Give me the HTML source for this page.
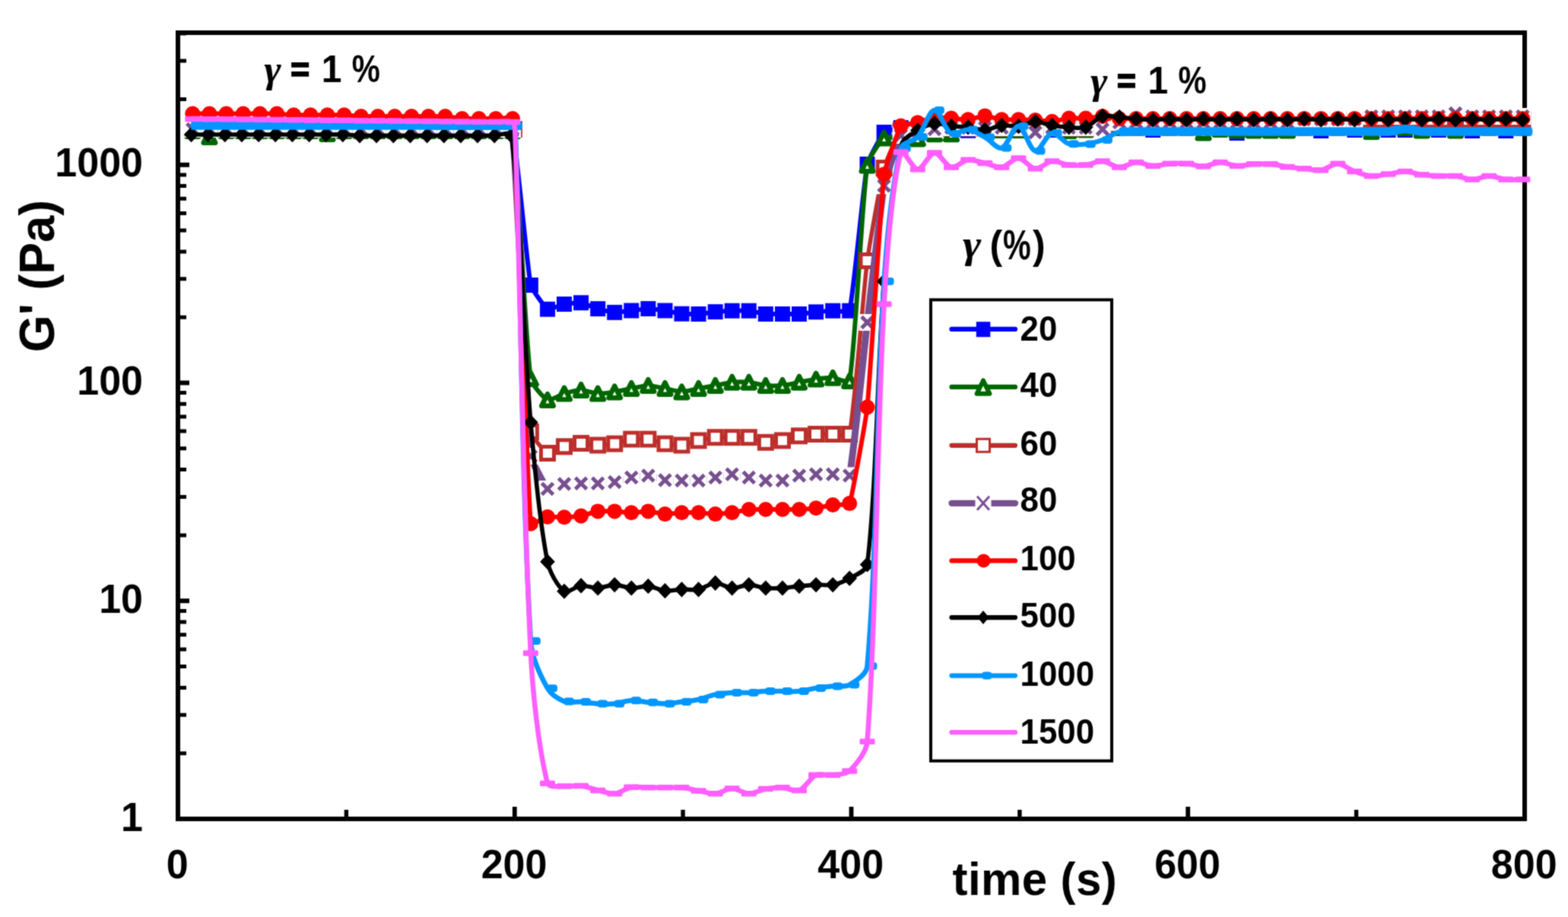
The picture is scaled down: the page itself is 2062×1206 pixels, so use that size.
<!DOCTYPE html>
<html lang="en"><head><meta charset="utf-8"><title>G' recovery versus time</title>
<style>
html,body{margin:0;padding:0;background:#fff;}
body{width:2062px;height:1206px;overflow:hidden;}
svg{display:block;}
text{font-family:"Liberation Sans",sans-serif;font-weight:bold;fill:#000;}
.gm{font-family:"Liberation Serif","DejaVu Serif",serif;font-style:italic;font-weight:bold;}
</style></head><body>
<svg width="2062" height="1206" viewBox="0 0 2062 1206" role="img" aria-label="Storage modulus G' versus time for step-strain recovery tests">
<defs><filter id="soft" x="0" y="0" width="2062" height="1206" filterUnits="userSpaceOnUse" color-interpolation-filters="sRGB"><feConvolveMatrix order="3" kernelMatrix="1 3 1 3 9 3 1 3 1" divisor="25" edgeMode="duplicate" preserveAlpha="true"/></filter></defs>
<g filter="url(#soft)">
<rect width="2062" height="1206" fill="#fff"/>
<g id="axes">
<rect x="234" y="43" width="1771" height="1034" fill="none" stroke="#000" stroke-width="6"/>
<line x1="234" y1="790.2" x2="249" y2="790.2" stroke="#000" stroke-width="6"/>
<line x1="234" y1="503.5" x2="249" y2="503.5" stroke="#000" stroke-width="6"/>
<line x1="234" y1="216.8" x2="249" y2="216.8" stroke="#000" stroke-width="6"/>
<path d="M234 990.7H245M234 940.2H245M234 904.4H245M234 876.6H245M234 853.9H245M234 834.7H245M234 818H245M234 803.4H245M234 703.9H245M234 653.4H245M234 617.6H245M234 589.8H245M234 567.1H245M234 547.9H245M234 531.3H245M234 516.6H245M234 417.2H245M234 366.7H245M234 330.9H245M234 303.1H245M234 280.4H245M234 261.2H245M234 244.5H245M234 229.9H245M234 130.4H245M234 79.9H245M234 44.1H245" stroke="#000" stroke-width="5" fill="none"/>
<path d="M676.8 1077V1061M1119.5 1077V1061M1562.2 1077V1061" stroke="#000" stroke-width="5.8" fill="none"/>
<path d="M455.4 1077V1065M898.1 1077V1065M1340.9 1077V1065M1783.6 1077V1065" stroke="#000" stroke-width="5.4" fill="none"/>
</g>
<g id="ticklabels">
<text transform="translate(188 232.4) scale(1 1.045)" style="font-size:52px;" text-anchor="end">1000</text>
<text transform="translate(188 519.2) scale(1 1.045)" style="font-size:52px;" text-anchor="end">100</text>
<text transform="translate(188 806) scale(1 1.045)" style="font-size:52px;" text-anchor="end">10</text>
<text transform="translate(188 1092.7) scale(1 1.045)" style="font-size:52px;" text-anchor="end">1</text>
<text transform="translate(233.2 1155.2) scale(1 1.045)" style="font-size:52px;" text-anchor="middle">0</text>
<text transform="translate(676 1155.2) scale(1 1.045)" style="font-size:52px;" text-anchor="middle">200</text>
<text transform="translate(1118.7 1155.2) scale(1 1.045)" style="font-size:52px;" text-anchor="middle">400</text>
<text transform="translate(1561.5 1155.2) scale(1 1.045)" style="font-size:52px;" text-anchor="middle">600</text>
<text transform="translate(2004.2 1155.2) scale(1 1.045)" style="font-size:52px;" text-anchor="middle">800</text>
</g>
<text transform="translate(70.6 463.3) rotate(-90) scale(1 1.03)" style="font-size:63px;">G' (Pa)</text>
<text transform="translate(1252.5 1177.2) scale(1 1.02)" style="font-size:60px;letter-spacing:0.4px;">time (s)</text>
<g id="series">
<g id="s-blue">
<path d="M253.3 171C256 171 272.8 171 275.4 171C278.1 171 294.9 171 297.6 171C300.3 171 317.1 171 319.8 171C322.4 171 339.2 171 341.9 171C344.6 171 361.4 171 364.1 171C366.7 171 383.5 171 386.2 171C388.9 171 405.7 171 408.4 171C411 171 427.8 171 430.5 171C433.2 171 450 171 452.6 171C455.3 171 472.1 171 474.8 171C477.5 171 494.3 171 496.9 171C499.6 171 516.4 171 519.1 171C521.8 171 538.6 171 541.2 171C543.9 171 560.7 171 563.4 171C566.1 171 582.9 171 585.5 171C588.2 171 605 171 607.7 171C610.4 171 627.2 171 629.8 171C632.5 171 649.3 171 652 171C654.7 171 673.6 168.6 674.1 171C679.1 193.1 693.3 351.2 697.9 375C698.8 379.5 716.7 404.8 720 406.7C722 407.8 739.3 400.5 742 400C744.6 399.5 761.5 397.8 764.1 398.2C766.8 398.6 783.5 405.3 786.2 406.1C788.8 406.8 805.6 410.8 808.2 410.9C810.9 411 827.7 408.8 830.3 408.5C833 408.2 849.7 406 852.4 406C855 406 871.8 408.1 874.5 408.5C877.1 408.9 893.9 412.4 896.5 412.7C899.2 413 916 413.2 918.6 413C921.3 412.8 938 410.4 940.7 410.1C943.3 409.8 960.1 408.8 962.7 408.7C965.4 408.6 982.2 408.4 984.8 408.7C987.5 409 1004.2 412.7 1006.9 413C1009.5 413.3 1026.3 413 1029 413C1031.6 413 1048.4 413.2 1051 413C1053.7 412.8 1070.4 410.6 1073.1 410.3C1075.7 410 1092.5 408.8 1095.2 408.7C1097.8 408.6 1116.7 411.1 1117.2 408.7C1122.1 387.9 1136.1 238.6 1140.5 216C1141.6 210.5 1159 177.9 1162.6 174C1164.3 172.1 1182 168.2 1184.7 168C1187.3 167.8 1204.1 171 1206.8 171C1209.5 171 1226.2 168.2 1228.9 168C1231.5 167.8 1248.4 167.8 1251 168C1253.7 168.2 1270.4 171.7 1273.1 171.7C1275.8 171.7 1292.5 168.2 1295.2 168C1297.8 167.8 1314.6 168 1317.3 168C1320 168 1336.7 168 1339.4 168C1342.1 168 1358.9 167.8 1361.5 168C1364.2 168.2 1380.9 171 1383.6 171C1386.3 171 1403 168.2 1405.7 168C1408.3 167.8 1425.2 167.9 1427.8 168C1430.5 168.1 1447.2 170.4 1449.9 170.4C1452.6 170.4 1469.3 168.1 1472 168C1474.6 167.9 1491.5 167.8 1494.1 168C1496.8 168.2 1513.5 171 1516.2 171C1518.9 171 1535.6 168.2 1538.3 168C1540.9 167.8 1557.7 168 1560.4 168C1563.1 168 1579.8 168 1582.5 168C1585.2 168 1602 167.6 1604.6 168C1607.3 168.4 1624 175 1626.7 175C1629.4 175 1646.1 168.4 1648.8 168C1651.4 167.6 1668.3 167.8 1670.9 168C1673.6 168.2 1690.3 172 1693 172C1695.7 172 1712.4 168 1715.1 168C1717.8 168 1734.5 172 1737.2 172C1739.9 172 1756.6 168.1 1759.3 168C1761.9 167.9 1778.7 171 1781.4 171C1784.1 171 1800.8 168 1803.5 168C1806.2 168 1822.9 170.8 1825.6 171C1828.2 171.2 1845.1 171.2 1847.7 171C1850.4 170.8 1867.1 168 1869.8 168C1872.5 168 1889.2 171 1891.9 171C1894.6 171 1911.4 167.9 1914 168C1916.7 168.1 1933.4 172 1936.1 172C1938.8 172 1955.5 168 1958.2 168C1960.9 168 1977.6 172 1980.3 172C1983 172 1999.7 168.5 2002.4 168" fill="none" stroke="#0000FF" stroke-width="6" stroke-linejoin="round" stroke-linecap="round"/>
<rect x="243.3" y="161" width="20" height="20" fill="#0000FF"/>
<rect x="265.4" y="161" width="20" height="20" fill="#0000FF"/>
<rect x="287.6" y="161" width="20" height="20" fill="#0000FF"/>
<rect x="309.8" y="161" width="20" height="20" fill="#0000FF"/>
<rect x="331.9" y="161" width="20" height="20" fill="#0000FF"/>
<rect x="354.1" y="161" width="20" height="20" fill="#0000FF"/>
<rect x="376.2" y="161" width="20" height="20" fill="#0000FF"/>
<rect x="398.4" y="161" width="20" height="20" fill="#0000FF"/>
<rect x="420.5" y="161" width="20" height="20" fill="#0000FF"/>
<rect x="442.6" y="161" width="20" height="20" fill="#0000FF"/>
<rect x="464.8" y="161" width="20" height="20" fill="#0000FF"/>
<rect x="486.9" y="161" width="20" height="20" fill="#0000FF"/>
<rect x="509.1" y="161" width="20" height="20" fill="#0000FF"/>
<rect x="531.2" y="161" width="20" height="20" fill="#0000FF"/>
<rect x="553.4" y="161" width="20" height="20" fill="#0000FF"/>
<rect x="575.5" y="161" width="20" height="20" fill="#0000FF"/>
<rect x="597.7" y="161" width="20" height="20" fill="#0000FF"/>
<rect x="619.8" y="161" width="20" height="20" fill="#0000FF"/>
<rect x="642" y="161" width="20" height="20" fill="#0000FF"/>
<rect x="664.1" y="161" width="20" height="20" fill="#0000FF"/>
<rect x="687.9" y="365" width="20" height="20" fill="#0000FF"/>
<rect x="710" y="396.7" width="20" height="20" fill="#0000FF"/>
<rect x="732" y="390" width="20" height="20" fill="#0000FF"/>
<rect x="754.1" y="388.2" width="20" height="20" fill="#0000FF"/>
<rect x="776.2" y="396.1" width="20" height="20" fill="#0000FF"/>
<rect x="798.2" y="400.9" width="20" height="20" fill="#0000FF"/>
<rect x="820.3" y="398.5" width="20" height="20" fill="#0000FF"/>
<rect x="842.4" y="396" width="20" height="20" fill="#0000FF"/>
<rect x="864.5" y="398.5" width="20" height="20" fill="#0000FF"/>
<rect x="886.5" y="402.7" width="20" height="20" fill="#0000FF"/>
<rect x="908.6" y="403" width="20" height="20" fill="#0000FF"/>
<rect x="930.7" y="400.1" width="20" height="20" fill="#0000FF"/>
<rect x="952.7" y="398.7" width="20" height="20" fill="#0000FF"/>
<rect x="974.8" y="398.7" width="20" height="20" fill="#0000FF"/>
<rect x="996.9" y="403" width="20" height="20" fill="#0000FF"/>
<rect x="1019" y="403" width="20" height="20" fill="#0000FF"/>
<rect x="1041" y="403" width="20" height="20" fill="#0000FF"/>
<rect x="1063.1" y="400.3" width="20" height="20" fill="#0000FF"/>
<rect x="1085.2" y="398.7" width="20" height="20" fill="#0000FF"/>
<rect x="1107.2" y="398.7" width="20" height="20" fill="#0000FF"/>
<rect x="1130.5" y="206" width="20" height="20" fill="#0000FF"/>
<rect x="1152.6" y="164" width="20" height="20" fill="#0000FF"/>
<rect x="1174.7" y="158" width="20" height="20" fill="#0000FF"/>
<rect x="1196.8" y="161" width="20" height="20" fill="#0000FF"/>
<rect x="1218.9" y="158" width="20" height="20" fill="#0000FF"/>
<rect x="1241" y="158" width="20" height="20" fill="#0000FF"/>
<rect x="1263.1" y="161.7" width="20" height="20" fill="#0000FF"/>
<rect x="1285.2" y="158" width="20" height="20" fill="#0000FF"/>
<rect x="1307.3" y="158" width="20" height="20" fill="#0000FF"/>
<rect x="1329.4" y="158" width="20" height="20" fill="#0000FF"/>
<rect x="1351.5" y="158" width="20" height="20" fill="#0000FF"/>
<rect x="1373.6" y="161" width="20" height="20" fill="#0000FF"/>
<rect x="1395.7" y="158" width="20" height="20" fill="#0000FF"/>
<rect x="1417.8" y="158" width="20" height="20" fill="#0000FF"/>
<rect x="1439.9" y="160.4" width="20" height="20" fill="#0000FF"/>
<rect x="1462" y="158" width="20" height="20" fill="#0000FF"/>
<rect x="1484.1" y="158" width="20" height="20" fill="#0000FF"/>
<rect x="1506.2" y="161" width="20" height="20" fill="#0000FF"/>
<rect x="1528.3" y="158" width="20" height="20" fill="#0000FF"/>
<rect x="1550.4" y="158" width="20" height="20" fill="#0000FF"/>
<rect x="1572.5" y="158" width="20" height="20" fill="#0000FF"/>
<rect x="1594.6" y="158" width="20" height="20" fill="#0000FF"/>
<rect x="1616.7" y="165" width="20" height="20" fill="#0000FF"/>
<rect x="1638.8" y="158" width="20" height="20" fill="#0000FF"/>
<rect x="1660.9" y="158" width="20" height="20" fill="#0000FF"/>
<rect x="1683" y="162" width="20" height="20" fill="#0000FF"/>
<rect x="1705.1" y="158" width="20" height="20" fill="#0000FF"/>
<rect x="1727.2" y="162" width="20" height="20" fill="#0000FF"/>
<rect x="1749.3" y="158" width="20" height="20" fill="#0000FF"/>
<rect x="1771.4" y="161" width="20" height="20" fill="#0000FF"/>
<rect x="1793.5" y="158" width="20" height="20" fill="#0000FF"/>
<rect x="1815.6" y="161" width="20" height="20" fill="#0000FF"/>
<rect x="1837.7" y="161" width="20" height="20" fill="#0000FF"/>
<rect x="1859.8" y="158" width="20" height="20" fill="#0000FF"/>
<rect x="1881.9" y="161" width="20" height="20" fill="#0000FF"/>
<rect x="1904" y="158" width="20" height="20" fill="#0000FF"/>
<rect x="1926.1" y="162" width="20" height="20" fill="#0000FF"/>
<rect x="1948.2" y="158" width="20" height="20" fill="#0000FF"/>
<rect x="1970.3" y="162" width="20" height="20" fill="#0000FF"/>
<rect x="1992.4" y="158" width="20" height="20" fill="#0000FF"/>
</g>
<g id="s-green">
<path d="M253.3 172C257.7 173.6 271 180 275.4 180C279.9 180 293 172.8 297.6 172C301.9 171.2 315.3 172 319.8 172C324.2 172 337.5 172 341.9 172C346.3 172 359.6 172 364.1 172C368.5 172 381.8 172 386.2 172C390.6 172 404 171.6 408.4 172C412.8 172.4 426.1 176 430.5 176C434.9 176 448.2 172.4 452.6 172C457 171.6 470.4 172 474.8 172C479.2 172 492.5 172 496.9 172C501.4 172 514.7 172 519.1 172C523.5 172 536.8 172 541.2 172C545.7 172 559 172 563.4 172C567.8 172 581.1 172 585.5 172C590 172 603.3 172 607.7 172C612.1 172 625.4 172 629.8 172C634.3 172 647.6 172 652 172C656.4 172 673.6 167.9 674.1 172C682.7 233.1 689.6 434.2 697.9 498C698.8 505 714.7 523.6 720 526C723.5 527.6 737.5 518.9 742 517.6C746.4 516.3 759.7 513 764.1 513C768.5 513 781.7 517.4 786.2 517.6C790.6 517.8 803.9 516.1 808.2 515.4C812.7 514.7 825.9 511.8 830.3 511C834.7 510.2 848 507 852.4 507C856.8 507 870.1 510.2 874.5 511C878.9 511.8 892.1 515.4 896.5 515.4C900.9 515.4 914.2 511.8 918.6 511C923 510.2 936.3 507.8 940.7 507C945.1 506.2 958.3 503.1 962.7 502.7C967.1 502.3 980.4 502.3 984.8 502.7C989.3 503.1 1002.4 506.6 1006.9 507C1011.3 507.4 1024.6 507.4 1029 507C1033.4 506.6 1046.6 503.5 1051 502.7C1055.4 501.9 1068.6 499.2 1073.1 498.6C1077.5 498 1090.8 496.6 1095.2 496.8C1099.6 497 1116.6 505.1 1117.2 501C1125.6 449.2 1132.6 273.1 1140.5 217.5C1141.7 209.2 1156.8 186.3 1162.6 181.5C1165.6 179 1180.3 180.9 1184.7 181C1189.1 181.1 1202.5 182.9 1206.8 182.4C1211.3 181.9 1224.4 176.9 1228.9 176.3C1233.2 175.7 1246.7 177.1 1251 176.3C1255.6 175.4 1268.5 168.9 1273.1 168C1277.4 167.2 1290.8 167.7 1295.2 168C1299.6 168.3 1312.9 170.7 1317.3 171C1321.7 171.3 1335 171.3 1339.4 171C1343.8 170.7 1357.1 168.3 1361.5 168C1365.9 167.7 1379.2 167.6 1383.6 168C1388.1 168.4 1401.2 171.7 1405.7 172C1410.1 172.2 1423.4 170.9 1427.8 170.5C1432.2 170.1 1445.5 168.3 1449.9 168C1454.3 167.8 1467.6 168 1472 168C1476.4 168 1489.7 168 1494.1 168C1498.5 168 1511.8 168 1516.2 168C1520.6 168 1533.9 168 1538.3 168C1542.7 168 1556.1 167.4 1560.4 168C1564.9 168.7 1578 174.3 1582.5 174.5C1586.9 174.7 1600.1 170.3 1604.6 170C1609 169.7 1622.3 171.3 1626.7 171.5C1631.1 171.6 1644.4 171.5 1648.8 171.5C1653.2 171.5 1666.5 171.5 1670.9 171.5C1675.3 171.5 1688.6 171.8 1693 171.5C1697.4 171.1 1710.7 168.4 1715.1 168C1719.5 167.7 1732.8 168 1737.2 168C1741.6 168 1754.9 168 1759.3 168C1763.7 168 1777 167.5 1781.4 168C1785.9 168.5 1799.1 173 1803.5 173C1807.9 173 1821.1 168.5 1825.6 168C1830 167.5 1843.3 167.7 1847.7 168C1852.1 168.4 1865.4 171.5 1869.8 171.5C1874.2 171.5 1887.5 168 1891.9 168C1896.3 168 1909.6 171.5 1914 171.5C1918.4 171.5 1931.7 168.4 1936.1 168C1940.5 167.7 1953.8 168 1958.2 168C1962.6 168 1975.9 168 1980.3 168C1984.7 168 1998 168 2002.4 168" fill="none" stroke="#006600" stroke-width="6" stroke-linejoin="round" stroke-linecap="round"/>
<path d="M253.3 164.2L261.1 179.8L245.5 179.8Z" fill="#fff" stroke="#006600" stroke-width="6.4" stroke-linejoin="round"/>
<path d="M275.4 172.2L283.2 187.8L267.6 187.8Z" fill="#fff" stroke="#006600" stroke-width="6.4" stroke-linejoin="round"/>
<path d="M297.6 164.2L305.4 179.8L289.8 179.8Z" fill="#fff" stroke="#006600" stroke-width="6.4" stroke-linejoin="round"/>
<path d="M319.8 164.2L327.6 179.8L311.9 179.8Z" fill="#fff" stroke="#006600" stroke-width="6.4" stroke-linejoin="round"/>
<path d="M341.9 164.2L349.7 179.8L334.1 179.8Z" fill="#fff" stroke="#006600" stroke-width="6.4" stroke-linejoin="round"/>
<path d="M364.1 164.2L371.9 179.8L356.2 179.8Z" fill="#fff" stroke="#006600" stroke-width="6.4" stroke-linejoin="round"/>
<path d="M386.2 164.2L394 179.8L378.4 179.8Z" fill="#fff" stroke="#006600" stroke-width="6.4" stroke-linejoin="round"/>
<path d="M408.4 164.2L416.2 179.8L400.6 179.8Z" fill="#fff" stroke="#006600" stroke-width="6.4" stroke-linejoin="round"/>
<path d="M430.5 168.2L438.3 183.8L422.7 183.8Z" fill="#fff" stroke="#006600" stroke-width="6.4" stroke-linejoin="round"/>
<path d="M452.6 164.2L460.4 179.8L444.8 179.8Z" fill="#fff" stroke="#006600" stroke-width="6.4" stroke-linejoin="round"/>
<path d="M474.8 164.2L482.6 179.8L467 179.8Z" fill="#fff" stroke="#006600" stroke-width="6.4" stroke-linejoin="round"/>
<path d="M496.9 164.2L504.8 179.8L489.1 179.8Z" fill="#fff" stroke="#006600" stroke-width="6.4" stroke-linejoin="round"/>
<path d="M519.1 164.2L526.9 179.8L511.3 179.8Z" fill="#fff" stroke="#006600" stroke-width="6.4" stroke-linejoin="round"/>
<path d="M541.2 164.2L549 179.8L533.5 179.8Z" fill="#fff" stroke="#006600" stroke-width="6.4" stroke-linejoin="round"/>
<path d="M563.4 164.2L571.2 179.8L555.6 179.8Z" fill="#fff" stroke="#006600" stroke-width="6.4" stroke-linejoin="round"/>
<path d="M585.5 164.2L593.3 179.8L577.8 179.8Z" fill="#fff" stroke="#006600" stroke-width="6.4" stroke-linejoin="round"/>
<path d="M607.7 164.2L615.5 179.8L599.9 179.8Z" fill="#fff" stroke="#006600" stroke-width="6.4" stroke-linejoin="round"/>
<path d="M629.8 164.2L637.6 179.8L622 179.8Z" fill="#fff" stroke="#006600" stroke-width="6.4" stroke-linejoin="round"/>
<path d="M652 164.2L659.8 179.8L644.2 179.8Z" fill="#fff" stroke="#006600" stroke-width="6.4" stroke-linejoin="round"/>
<path d="M674.1 164.2L681.9 179.8L666.4 179.8Z" fill="#fff" stroke="#006600" stroke-width="6.4" stroke-linejoin="round"/>
<path d="M697.9 490.2L705.7 505.8L690.1 505.8Z" fill="#fff" stroke="#006600" stroke-width="6.4" stroke-linejoin="round"/>
<path d="M720 518.2L727.8 533.8L712.2 533.8Z" fill="#fff" stroke="#006600" stroke-width="6.4" stroke-linejoin="round"/>
<path d="M742 509.8L749.8 525.4L734.2 525.4Z" fill="#fff" stroke="#006600" stroke-width="6.4" stroke-linejoin="round"/>
<path d="M764.1 505.2L771.9 520.8L756.3 520.8Z" fill="#fff" stroke="#006600" stroke-width="6.4" stroke-linejoin="round"/>
<path d="M786.2 509.8L794 525.4L778.4 525.4Z" fill="#fff" stroke="#006600" stroke-width="6.4" stroke-linejoin="round"/>
<path d="M808.2 507.6L816 523.2L800.5 523.2Z" fill="#fff" stroke="#006600" stroke-width="6.4" stroke-linejoin="round"/>
<path d="M830.3 503.2L838.1 518.8L822.5 518.8Z" fill="#fff" stroke="#006600" stroke-width="6.4" stroke-linejoin="round"/>
<path d="M852.4 499.2L860.2 514.8L844.6 514.8Z" fill="#fff" stroke="#006600" stroke-width="6.4" stroke-linejoin="round"/>
<path d="M874.5 503.2L882.3 518.8L866.7 518.8Z" fill="#fff" stroke="#006600" stroke-width="6.4" stroke-linejoin="round"/>
<path d="M896.5 507.6L904.3 523.2L888.7 523.2Z" fill="#fff" stroke="#006600" stroke-width="6.4" stroke-linejoin="round"/>
<path d="M918.6 503.2L926.4 518.8L910.8 518.8Z" fill="#fff" stroke="#006600" stroke-width="6.4" stroke-linejoin="round"/>
<path d="M940.7 499.2L948.5 514.8L932.9 514.8Z" fill="#fff" stroke="#006600" stroke-width="6.4" stroke-linejoin="round"/>
<path d="M962.7 494.9L970.5 510.5L954.9 510.5Z" fill="#fff" stroke="#006600" stroke-width="6.4" stroke-linejoin="round"/>
<path d="M984.8 494.9L992.6 510.5L977 510.5Z" fill="#fff" stroke="#006600" stroke-width="6.4" stroke-linejoin="round"/>
<path d="M1006.9 499.2L1014.7 514.8L999.1 514.8Z" fill="#fff" stroke="#006600" stroke-width="6.4" stroke-linejoin="round"/>
<path d="M1029 499.2L1036.8 514.8L1021.2 514.8Z" fill="#fff" stroke="#006600" stroke-width="6.4" stroke-linejoin="round"/>
<path d="M1051 494.9L1058.8 510.5L1043.2 510.5Z" fill="#fff" stroke="#006600" stroke-width="6.4" stroke-linejoin="round"/>
<path d="M1073.1 490.8L1080.9 506.4L1065.3 506.4Z" fill="#fff" stroke="#006600" stroke-width="6.4" stroke-linejoin="round"/>
<path d="M1095.2 489L1103 504.6L1087.4 504.6Z" fill="#fff" stroke="#006600" stroke-width="6.4" stroke-linejoin="round"/>
<path d="M1117.2 493.2L1125 508.8L1109.4 508.8Z" fill="#fff" stroke="#006600" stroke-width="6.4" stroke-linejoin="round"/>
<path d="M1140.5 209.7L1148.3 225.3L1132.7 225.3Z" fill="#fff" stroke="#006600" stroke-width="6.4" stroke-linejoin="round"/>
<path d="M1162.6 173.7L1170.4 189.3L1154.8 189.3Z" fill="#fff" stroke="#006600" stroke-width="6.4" stroke-linejoin="round"/>
<path d="M1184.7 173.2L1192.5 188.8L1176.9 188.8Z" fill="#fff" stroke="#006600" stroke-width="6.4" stroke-linejoin="round"/>
<path d="M1206.8 174.6L1214.6 190.2L1199 190.2Z" fill="#fff" stroke="#006600" stroke-width="6.4" stroke-linejoin="round"/>
<path d="M1228.9 168.5L1236.7 184.1L1221.1 184.1Z" fill="#fff" stroke="#006600" stroke-width="6.4" stroke-linejoin="round"/>
<path d="M1251 168.5L1258.8 184.1L1243.2 184.1Z" fill="#fff" stroke="#006600" stroke-width="6.4" stroke-linejoin="round"/>
<path d="M1273.1 160.2L1280.9 175.8L1265.3 175.8Z" fill="#fff" stroke="#006600" stroke-width="6.4" stroke-linejoin="round"/>
<path d="M1295.2 160.2L1303 175.8L1287.4 175.8Z" fill="#fff" stroke="#006600" stroke-width="6.4" stroke-linejoin="round"/>
<path d="M1317.3 163.2L1325.1 178.8L1309.5 178.8Z" fill="#fff" stroke="#006600" stroke-width="6.4" stroke-linejoin="round"/>
<path d="M1339.4 163.2L1347.2 178.8L1331.6 178.8Z" fill="#fff" stroke="#006600" stroke-width="6.4" stroke-linejoin="round"/>
<path d="M1361.5 160.2L1369.3 175.8L1353.7 175.8Z" fill="#fff" stroke="#006600" stroke-width="6.4" stroke-linejoin="round"/>
<path d="M1383.6 160.2L1391.4 175.8L1375.8 175.8Z" fill="#fff" stroke="#006600" stroke-width="6.4" stroke-linejoin="round"/>
<path d="M1405.7 164.2L1413.5 179.8L1397.9 179.8Z" fill="#fff" stroke="#006600" stroke-width="6.4" stroke-linejoin="round"/>
<path d="M1427.8 162.7L1435.6 178.3L1420 178.3Z" fill="#fff" stroke="#006600" stroke-width="6.4" stroke-linejoin="round"/>
<path d="M1449.9 160.2L1457.7 175.8L1442.1 175.8Z" fill="#fff" stroke="#006600" stroke-width="6.4" stroke-linejoin="round"/>
<path d="M1472 160.2L1479.8 175.8L1464.2 175.8Z" fill="#fff" stroke="#006600" stroke-width="6.4" stroke-linejoin="round"/>
<path d="M1494.1 160.2L1501.9 175.8L1486.3 175.8Z" fill="#fff" stroke="#006600" stroke-width="6.4" stroke-linejoin="round"/>
<path d="M1516.2 160.2L1524 175.8L1508.4 175.8Z" fill="#fff" stroke="#006600" stroke-width="6.4" stroke-linejoin="round"/>
<path d="M1538.3 160.2L1546.1 175.8L1530.5 175.8Z" fill="#fff" stroke="#006600" stroke-width="6.4" stroke-linejoin="round"/>
<path d="M1560.4 160.2L1568.2 175.8L1552.6 175.8Z" fill="#fff" stroke="#006600" stroke-width="6.4" stroke-linejoin="round"/>
<path d="M1582.5 166.7L1590.3 182.3L1574.7 182.3Z" fill="#fff" stroke="#006600" stroke-width="6.4" stroke-linejoin="round"/>
<path d="M1604.6 162.2L1612.4 177.8L1596.8 177.8Z" fill="#fff" stroke="#006600" stroke-width="6.4" stroke-linejoin="round"/>
<path d="M1626.7 163.7L1634.5 179.3L1618.9 179.3Z" fill="#fff" stroke="#006600" stroke-width="6.4" stroke-linejoin="round"/>
<path d="M1648.8 163.7L1656.6 179.3L1641 179.3Z" fill="#fff" stroke="#006600" stroke-width="6.4" stroke-linejoin="round"/>
<path d="M1670.9 163.7L1678.7 179.3L1663.1 179.3Z" fill="#fff" stroke="#006600" stroke-width="6.4" stroke-linejoin="round"/>
<path d="M1693 163.7L1700.8 179.3L1685.2 179.3Z" fill="#fff" stroke="#006600" stroke-width="6.4" stroke-linejoin="round"/>
<path d="M1715.1 160.2L1722.9 175.8L1707.3 175.8Z" fill="#fff" stroke="#006600" stroke-width="6.4" stroke-linejoin="round"/>
<path d="M1737.2 160.2L1745 175.8L1729.4 175.8Z" fill="#fff" stroke="#006600" stroke-width="6.4" stroke-linejoin="round"/>
<path d="M1759.3 160.2L1767.1 175.8L1751.5 175.8Z" fill="#fff" stroke="#006600" stroke-width="6.4" stroke-linejoin="round"/>
<path d="M1781.4 160.2L1789.2 175.8L1773.6 175.8Z" fill="#fff" stroke="#006600" stroke-width="6.4" stroke-linejoin="round"/>
<path d="M1803.5 165.2L1811.3 180.8L1795.7 180.8Z" fill="#fff" stroke="#006600" stroke-width="6.4" stroke-linejoin="round"/>
<path d="M1825.6 160.2L1833.4 175.8L1817.8 175.8Z" fill="#fff" stroke="#006600" stroke-width="6.4" stroke-linejoin="round"/>
<path d="M1847.7 160.2L1855.5 175.8L1839.9 175.8Z" fill="#fff" stroke="#006600" stroke-width="6.4" stroke-linejoin="round"/>
<path d="M1869.8 163.7L1877.6 179.3L1862 179.3Z" fill="#fff" stroke="#006600" stroke-width="6.4" stroke-linejoin="round"/>
<path d="M1891.9 160.2L1899.7 175.8L1884.1 175.8Z" fill="#fff" stroke="#006600" stroke-width="6.4" stroke-linejoin="round"/>
<path d="M1914 163.7L1921.8 179.3L1906.2 179.3Z" fill="#fff" stroke="#006600" stroke-width="6.4" stroke-linejoin="round"/>
<path d="M1936.1 160.2L1943.9 175.8L1928.3 175.8Z" fill="#fff" stroke="#006600" stroke-width="6.4" stroke-linejoin="round"/>
<path d="M1958.2 160.2L1966 175.8L1950.4 175.8Z" fill="#fff" stroke="#006600" stroke-width="6.4" stroke-linejoin="round"/>
<path d="M1980.3 160.2L1988.1 175.8L1972.5 175.8Z" fill="#fff" stroke="#006600" stroke-width="6.4" stroke-linejoin="round"/>
<path d="M2002.4 160.2L2010.2 175.8L1994.6 175.8Z" fill="#fff" stroke="#006600" stroke-width="6.4" stroke-linejoin="round"/>
</g>
<g id="s-brown">
<path d="M255.1 170C258.4 170 273.9 170 277.2 170C280.6 170 296.1 170 299.4 170C302.7 170 318.2 170 321.6 170C324.9 170 340.4 170 343.7 170C347 170 362.5 170 365.9 170C369.2 170 384.7 170 388 170C391.3 170 406.8 170 410.2 170C413.5 170 429 170 432.3 170C435.6 170 451.1 170 454.4 170C457.8 170 473.3 170 476.6 170C479.9 170 495.4 170 498.8 170C502.1 170 517.6 170 520.9 170C524.2 170 539.7 170 543 170C546.4 170 561.9 170 565.2 170C568.5 170 584 170 587.3 170C590.7 170 606.2 170 609.5 170C612.8 170 628.3 170 631.6 170C635 170 650.5 170 653.8 170C657.1 170 675.6 166.9 675.9 170C682.2 226.6 691.8 509.3 697.9 568C698.4 573.2 716 594.3 720 596C722.6 597.2 738.6 588.3 742 587.3C745.3 586.4 760.8 583.1 764.1 583C767.4 582.9 782.9 585.5 786.2 585.5C789.5 585.5 805 584.2 808.2 583.6C811.6 583 827 578.1 830.3 577.6C833.6 577.2 849.1 577.2 852.4 577.6C855.8 578.1 871.1 583 874.5 583.6C877.7 584.2 893.3 585.8 896.5 585.5C899.9 585.2 915.3 580.2 918.6 579.4C921.9 578.6 937.3 575.5 940.7 575.2C944 574.9 959.4 575.2 962.7 575.2C966.1 575.2 981.6 574.7 984.8 575.2C988.2 575.7 1003.5 581.5 1006.9 581.8C1010.1 582.1 1025.7 580 1029 579.4C1032.3 578.8 1047.7 573.9 1051 573.3C1054.3 572.7 1069.8 571.2 1073.1 571C1076.4 570.8 1091.8 571 1095.2 571C1098.5 571 1116.6 574 1117.2 571C1123.4 539.8 1136.1 377.1 1140.5 343C1142.9 324.6 1158 238.9 1162.6 221C1164.6 213.2 1180 177.2 1184.7 172C1186.6 169.9 1203.5 172.2 1206.8 172C1210.1 171.8 1225.6 169.3 1228.9 169C1232.2 168.7 1247.7 168.5 1251 168.5C1254.3 168.5 1269.8 168.5 1273.1 168.5C1276.4 168.5 1291.9 168.5 1295.2 168.5C1298.5 168.5 1314 168.5 1317.3 168.5C1320.6 168.5 1336.1 168.5 1339.4 168.5C1342.7 168.5 1358.2 168.5 1361.5 168.5C1364.8 168.5 1380.3 168.5 1383.6 168.5C1386.9 168.5 1402.4 168.5 1405.7 168.5C1409 168.5 1424.5 168.7 1427.8 168.5C1431.1 168.3 1446.6 165.9 1449.9 165.5C1453.2 165.1 1468.7 163.2 1472 163C1475.3 162.8 1490.8 163 1494.1 163C1497.4 163 1512.9 163 1516.2 163C1519.5 163 1535 163 1538.3 163C1541.6 163 1557.1 163 1560.4 163C1563.7 163 1579.2 163 1582.5 163C1585.8 163 1601.3 163 1604.6 163C1607.9 163 1623.4 163 1626.7 163C1630 163 1645.5 163 1648.8 163C1652.1 163 1667.6 163 1670.9 163C1674.2 163 1689.7 163.4 1693 163C1696.4 162.6 1711.7 157.9 1715.1 157.5C1718.4 157.1 1733.9 157.5 1737.2 157.5C1740.5 157.5 1756 157.5 1759.3 157.5C1762.6 157.5 1778.1 157.5 1781.4 157.5C1784.7 157.5 1800.2 157.5 1803.5 157.5C1806.8 157.5 1822.3 157.5 1825.6 157.5C1828.9 157.5 1844.4 157.5 1847.7 157.5C1851 157.5 1866.5 157.5 1869.8 157.5C1873.1 157.5 1888.6 157.5 1891.9 157.5C1895.2 157.5 1910.7 157.5 1914 157.5C1917.3 157.5 1932.8 157.5 1936.1 157.5C1939.4 157.5 1954.9 157.5 1958.2 157.5C1961.5 157.5 1977 157.5 1980.3 157.5C1983.6 157.5 1999.1 157.5 2002.4 157.5" fill="none" stroke="#BC2E2B" stroke-width="5.5" stroke-linejoin="round" stroke-linecap="round"/>
<rect x="246.6" y="161.5" width="17" height="17" fill="#fff" stroke="#BC2E2B" stroke-width="5"/>
<rect x="268.8" y="161.5" width="17" height="17" fill="#fff" stroke="#BC2E2B" stroke-width="5"/>
<rect x="290.9" y="161.5" width="17" height="17" fill="#fff" stroke="#BC2E2B" stroke-width="5"/>
<rect x="313.1" y="161.5" width="17" height="17" fill="#fff" stroke="#BC2E2B" stroke-width="5"/>
<rect x="335.2" y="161.5" width="17" height="17" fill="#fff" stroke="#BC2E2B" stroke-width="5"/>
<rect x="357.4" y="161.5" width="17" height="17" fill="#fff" stroke="#BC2E2B" stroke-width="5"/>
<rect x="379.5" y="161.5" width="17" height="17" fill="#fff" stroke="#BC2E2B" stroke-width="5"/>
<rect x="401.7" y="161.5" width="17" height="17" fill="#fff" stroke="#BC2E2B" stroke-width="5"/>
<rect x="423.8" y="161.5" width="17" height="17" fill="#fff" stroke="#BC2E2B" stroke-width="5"/>
<rect x="445.9" y="161.5" width="17" height="17" fill="#fff" stroke="#BC2E2B" stroke-width="5"/>
<rect x="468.1" y="161.5" width="17" height="17" fill="#fff" stroke="#BC2E2B" stroke-width="5"/>
<rect x="490.2" y="161.5" width="17" height="17" fill="#fff" stroke="#BC2E2B" stroke-width="5"/>
<rect x="512.4" y="161.5" width="17" height="17" fill="#fff" stroke="#BC2E2B" stroke-width="5"/>
<rect x="534.5" y="161.5" width="17" height="17" fill="#fff" stroke="#BC2E2B" stroke-width="5"/>
<rect x="556.7" y="161.5" width="17" height="17" fill="#fff" stroke="#BC2E2B" stroke-width="5"/>
<rect x="578.8" y="161.5" width="17" height="17" fill="#fff" stroke="#BC2E2B" stroke-width="5"/>
<rect x="601" y="161.5" width="17" height="17" fill="#fff" stroke="#BC2E2B" stroke-width="5"/>
<rect x="623.1" y="161.5" width="17" height="17" fill="#fff" stroke="#BC2E2B" stroke-width="5"/>
<rect x="645.3" y="161.5" width="17" height="17" fill="#fff" stroke="#BC2E2B" stroke-width="5"/>
<rect x="667.4" y="161.5" width="17" height="17" fill="#fff" stroke="#BC2E2B" stroke-width="5"/>
<rect x="689.4" y="559.5" width="17" height="17" fill="#fff" stroke="#BC2E2B" stroke-width="5"/>
<rect x="711.5" y="587.5" width="17" height="17" fill="#fff" stroke="#BC2E2B" stroke-width="5"/>
<rect x="733.5" y="578.8" width="17" height="17" fill="#fff" stroke="#BC2E2B" stroke-width="5"/>
<rect x="755.6" y="574.5" width="17" height="17" fill="#fff" stroke="#BC2E2B" stroke-width="5"/>
<rect x="777.7" y="577" width="17" height="17" fill="#fff" stroke="#BC2E2B" stroke-width="5"/>
<rect x="799.8" y="575.1" width="17" height="17" fill="#fff" stroke="#BC2E2B" stroke-width="5"/>
<rect x="821.8" y="569.1" width="17" height="17" fill="#fff" stroke="#BC2E2B" stroke-width="5"/>
<rect x="843.9" y="569.1" width="17" height="17" fill="#fff" stroke="#BC2E2B" stroke-width="5"/>
<rect x="866" y="575.1" width="17" height="17" fill="#fff" stroke="#BC2E2B" stroke-width="5"/>
<rect x="888" y="577" width="17" height="17" fill="#fff" stroke="#BC2E2B" stroke-width="5"/>
<rect x="910.1" y="570.9" width="17" height="17" fill="#fff" stroke="#BC2E2B" stroke-width="5"/>
<rect x="932.2" y="566.7" width="17" height="17" fill="#fff" stroke="#BC2E2B" stroke-width="5"/>
<rect x="954.2" y="566.7" width="17" height="17" fill="#fff" stroke="#BC2E2B" stroke-width="5"/>
<rect x="976.3" y="566.7" width="17" height="17" fill="#fff" stroke="#BC2E2B" stroke-width="5"/>
<rect x="998.4" y="573.3" width="17" height="17" fill="#fff" stroke="#BC2E2B" stroke-width="5"/>
<rect x="1020.5" y="570.9" width="17" height="17" fill="#fff" stroke="#BC2E2B" stroke-width="5"/>
<rect x="1042.5" y="564.8" width="17" height="17" fill="#fff" stroke="#BC2E2B" stroke-width="5"/>
<rect x="1064.6" y="562.5" width="17" height="17" fill="#fff" stroke="#BC2E2B" stroke-width="5"/>
<rect x="1086.7" y="562.5" width="17" height="17" fill="#fff" stroke="#BC2E2B" stroke-width="5"/>
<rect x="1108.7" y="562.5" width="17" height="17" fill="#fff" stroke="#BC2E2B" stroke-width="5"/>
<rect x="1132" y="334.5" width="17" height="17" fill="#fff" stroke="#BC2E2B" stroke-width="5"/>
<rect x="1154.1" y="212.5" width="17" height="17" fill="#fff" stroke="#BC2E2B" stroke-width="5"/>
<rect x="1176.2" y="163.5" width="17" height="17" fill="#fff" stroke="#BC2E2B" stroke-width="5"/>
<rect x="1198.3" y="163.5" width="17" height="17" fill="#fff" stroke="#BC2E2B" stroke-width="5"/>
<rect x="1220.4" y="160.5" width="17" height="17" fill="#fff" stroke="#BC2E2B" stroke-width="5"/>
<rect x="1242.5" y="160" width="17" height="17" fill="#fff" stroke="#BC2E2B" stroke-width="5"/>
<rect x="1264.6" y="160" width="17" height="17" fill="#fff" stroke="#BC2E2B" stroke-width="5"/>
<rect x="1286.7" y="160" width="17" height="17" fill="#fff" stroke="#BC2E2B" stroke-width="5"/>
<rect x="1308.8" y="160" width="17" height="17" fill="#fff" stroke="#BC2E2B" stroke-width="5"/>
<rect x="1330.9" y="160" width="17" height="17" fill="#fff" stroke="#BC2E2B" stroke-width="5"/>
<rect x="1353" y="160" width="17" height="17" fill="#fff" stroke="#BC2E2B" stroke-width="5"/>
<rect x="1375.1" y="160" width="17" height="17" fill="#fff" stroke="#BC2E2B" stroke-width="5"/>
<rect x="1397.2" y="160" width="17" height="17" fill="#fff" stroke="#BC2E2B" stroke-width="5"/>
<rect x="1419.3" y="160" width="17" height="17" fill="#fff" stroke="#BC2E2B" stroke-width="5"/>
<rect x="1441.4" y="157" width="17" height="17" fill="#fff" stroke="#BC2E2B" stroke-width="5"/>
<rect x="1463.5" y="154.5" width="17" height="17" fill="#fff" stroke="#BC2E2B" stroke-width="5"/>
<rect x="1485.6" y="154.5" width="17" height="17" fill="#fff" stroke="#BC2E2B" stroke-width="5"/>
<rect x="1507.7" y="154.5" width="17" height="17" fill="#fff" stroke="#BC2E2B" stroke-width="5"/>
<rect x="1529.8" y="154.5" width="17" height="17" fill="#fff" stroke="#BC2E2B" stroke-width="5"/>
<rect x="1551.9" y="154.5" width="17" height="17" fill="#fff" stroke="#BC2E2B" stroke-width="5"/>
<rect x="1574" y="154.5" width="17" height="17" fill="#fff" stroke="#BC2E2B" stroke-width="5"/>
<rect x="1596.1" y="154.5" width="17" height="17" fill="#fff" stroke="#BC2E2B" stroke-width="5"/>
<rect x="1618.2" y="154.5" width="17" height="17" fill="#fff" stroke="#BC2E2B" stroke-width="5"/>
<rect x="1640.3" y="154.5" width="17" height="17" fill="#fff" stroke="#BC2E2B" stroke-width="5"/>
<rect x="1662.4" y="154.5" width="17" height="17" fill="#fff" stroke="#BC2E2B" stroke-width="5"/>
<rect x="1684.5" y="154.5" width="17" height="17" fill="#fff" stroke="#BC2E2B" stroke-width="5"/>
<rect x="1706.6" y="149" width="17" height="17" fill="#fff" stroke="#BC2E2B" stroke-width="5"/>
<rect x="1728.7" y="149" width="17" height="17" fill="#fff" stroke="#BC2E2B" stroke-width="5"/>
<rect x="1750.8" y="149" width="17" height="17" fill="#fff" stroke="#BC2E2B" stroke-width="5"/>
<rect x="1772.9" y="149" width="17" height="17" fill="#fff" stroke="#BC2E2B" stroke-width="5"/>
<rect x="1795" y="149" width="17" height="17" fill="#fff" stroke="#BC2E2B" stroke-width="5"/>
<rect x="1817.1" y="149" width="17" height="17" fill="#fff" stroke="#BC2E2B" stroke-width="5"/>
<rect x="1839.2" y="149" width="17" height="17" fill="#fff" stroke="#BC2E2B" stroke-width="5"/>
<rect x="1861.3" y="149" width="17" height="17" fill="#fff" stroke="#BC2E2B" stroke-width="5"/>
<rect x="1883.4" y="149" width="17" height="17" fill="#fff" stroke="#BC2E2B" stroke-width="5"/>
<rect x="1905.5" y="149" width="17" height="17" fill="#fff" stroke="#BC2E2B" stroke-width="5"/>
<rect x="1927.6" y="149" width="17" height="17" fill="#fff" stroke="#BC2E2B" stroke-width="5"/>
<rect x="1949.7" y="149" width="17" height="17" fill="#fff" stroke="#BC2E2B" stroke-width="5"/>
<rect x="1971.8" y="149" width="17" height="17" fill="#fff" stroke="#BC2E2B" stroke-width="5"/>
<rect x="1993.9" y="149" width="17" height="17" fill="#fff" stroke="#BC2E2B" stroke-width="5"/>
</g>
<g id="s-purple">
<path d="M253.3 170C255.5 170 273.2 170 275.4 170C277.7 170 295.4 170 297.6 170C299.8 170 317.5 170 319.8 170C322 170 339.7 170 341.9 170C344.1 170 361.8 170 364.1 170C366.3 170 384 170 386.2 170C388.4 170 406.1 170 408.4 170C410.6 170 428.3 170 430.5 170C432.7 170 450.4 170 452.6 170C454.9 170 472.6 170 474.8 170C477 170 494.7 170 496.9 170C499.2 170 516.9 170 519.1 170C521.3 170 539 170 541.2 170C543.5 170 561.2 170 563.4 170C565.6 170 583.3 170 585.5 170C587.8 170 605.5 170 607.7 170C609.9 170 627.6 170 629.8 170C632.1 170 649.8 170 652 170C654.2 170 673.9 167.9 674.1 170C678.5 210.9 693.8 557.5 697.9 600C698.4 604.8 717 640.5 720 643C721.4 644.2 739.8 636.8 742 636.4C744.2 636 761.9 635.8 764.1 635.8C766.3 635.8 784 635.9 786.2 635.8C788.4 635.7 806.1 634.4 808.2 634C810.5 633.6 828.1 628.3 830.3 627.9C832.5 627.5 850.2 625.3 852.4 625.5C854.6 625.7 872.2 631.2 874.5 631.5C876.6 631.8 894.3 632.1 896.5 632.1C898.7 632.1 916.4 632.3 918.6 632.1C920.8 631.9 938.5 628.3 940.7 627.9C942.9 627.5 960.5 623.7 962.7 623.7C964.9 623.7 982.6 627.5 984.8 627.9C987 628.3 1004.7 631.9 1006.9 632.1C1009.1 632.3 1026.8 632.4 1029 632.1C1031.2 631.8 1048.8 625.9 1051 625.5C1053.2 625.1 1070.9 623.8 1073.1 623.7C1075.3 623.6 1093 623.6 1095.2 623.7C1097.4 623.8 1116.8 627.5 1117.2 625.5C1121.3 607.5 1138.1 444.1 1140.5 424C1142.6 406 1159.4 262 1162.6 244.3C1163.8 237.4 1181.4 183.4 1184.7 178C1185.8 176.2 1204.6 172.4 1206.8 172C1209 171.6 1226.7 170.2 1228.9 170C1231.1 169.8 1248.8 168.1 1251 168C1253.2 167.9 1270.9 168 1273.1 168C1275.3 168 1293 168 1295.2 168C1297.4 168 1315.1 168 1317.3 168C1319.5 168 1337.2 167.7 1339.4 168C1341.6 168.3 1359.3 174 1361.5 174C1363.7 174 1381.4 168.3 1383.6 168C1385.8 167.7 1403.5 168 1405.7 168C1407.9 168 1425.6 167.9 1427.8 168C1430 168.1 1447.8 170.3 1449.9 170C1452.2 169.6 1469.7 161.5 1472 161C1474.1 160.6 1491.9 161 1494.1 161C1496.3 161 1514 161 1516.2 161C1518.4 161 1536.1 161 1538.3 161C1540.5 161 1558.2 161 1560.4 161C1562.6 161 1580.3 161 1582.5 161C1584.7 161 1602.4 161 1604.6 161C1606.8 161 1624.5 161 1626.7 161C1628.9 161 1646.6 161 1648.8 161C1651 161 1668.7 161 1670.9 161C1673.1 161 1690.8 161.2 1693 161C1695.2 160.8 1712.9 157.2 1715.1 157C1717.3 156.8 1735 157 1737.2 157C1739.4 157 1757.1 157 1759.3 157C1761.5 157 1779.2 157.2 1781.4 157C1783.6 156.8 1801.3 153.2 1803.5 153C1805.7 152.8 1823.4 153 1825.6 153C1827.8 153 1845.5 153 1847.7 153C1849.9 153 1867.6 153 1869.8 153C1872 153 1889.7 153.2 1891.9 153C1894.1 152.8 1911.8 149 1914 149C1916.2 149 1933.9 152.8 1936.1 153C1938.3 153.2 1956 153 1958.2 153C1960.4 153 1978.1 153 1980.3 153C1982.5 153 2000.2 153 2002.4 153" fill="none" stroke="#774E8F" stroke-width="9" stroke-linejoin="round" stroke-linecap="round"/>
<rect x="242.3" y="159" width="22" height="22" fill="#fff"/><path d="M245.8 162.5L260.8 177.5M245.8 177.5L260.8 162.5" stroke="#774E8F" stroke-width="5" fill="none"/>
<rect x="264.4" y="159" width="22" height="22" fill="#fff"/><path d="M267.9 162.5L282.9 177.5M267.9 177.5L282.9 162.5" stroke="#774E8F" stroke-width="5" fill="none"/>
<rect x="286.6" y="159" width="22" height="22" fill="#fff"/><path d="M290.1 162.5L305.1 177.5M290.1 177.5L305.1 162.5" stroke="#774E8F" stroke-width="5" fill="none"/>
<rect x="308.8" y="159" width="22" height="22" fill="#fff"/><path d="M312.2 162.5L327.2 177.5M312.2 177.5L327.2 162.5" stroke="#774E8F" stroke-width="5" fill="none"/>
<rect x="330.9" y="159" width="22" height="22" fill="#fff"/><path d="M334.4 162.5L349.4 177.5M334.4 177.5L349.4 162.5" stroke="#774E8F" stroke-width="5" fill="none"/>
<rect x="353.1" y="159" width="22" height="22" fill="#fff"/><path d="M356.6 162.5L371.6 177.5M356.6 177.5L371.6 162.5" stroke="#774E8F" stroke-width="5" fill="none"/>
<rect x="375.2" y="159" width="22" height="22" fill="#fff"/><path d="M378.7 162.5L393.7 177.5M378.7 177.5L393.7 162.5" stroke="#774E8F" stroke-width="5" fill="none"/>
<rect x="397.4" y="159" width="22" height="22" fill="#fff"/><path d="M400.9 162.5L415.9 177.5M400.9 177.5L415.9 162.5" stroke="#774E8F" stroke-width="5" fill="none"/>
<rect x="419.5" y="159" width="22" height="22" fill="#fff"/><path d="M423 162.5L438 177.5M423 177.5L438 162.5" stroke="#774E8F" stroke-width="5" fill="none"/>
<rect x="441.6" y="159" width="22" height="22" fill="#fff"/><path d="M445.1 162.5L460.1 177.5M445.1 177.5L460.1 162.5" stroke="#774E8F" stroke-width="5" fill="none"/>
<rect x="463.8" y="159" width="22" height="22" fill="#fff"/><path d="M467.3 162.5L482.3 177.5M467.3 177.5L482.3 162.5" stroke="#774E8F" stroke-width="5" fill="none"/>
<rect x="485.9" y="159" width="22" height="22" fill="#fff"/><path d="M489.4 162.5L504.4 177.5M489.4 177.5L504.4 162.5" stroke="#774E8F" stroke-width="5" fill="none"/>
<rect x="508.1" y="159" width="22" height="22" fill="#fff"/><path d="M511.6 162.5L526.6 177.5M511.6 177.5L526.6 162.5" stroke="#774E8F" stroke-width="5" fill="none"/>
<rect x="530.2" y="159" width="22" height="22" fill="#fff"/><path d="M533.8 162.5L548.8 177.5M533.8 177.5L548.8 162.5" stroke="#774E8F" stroke-width="5" fill="none"/>
<rect x="552.4" y="159" width="22" height="22" fill="#fff"/><path d="M555.9 162.5L570.9 177.5M555.9 177.5L570.9 162.5" stroke="#774E8F" stroke-width="5" fill="none"/>
<rect x="574.5" y="159" width="22" height="22" fill="#fff"/><path d="M578 162.5L593 177.5M578 177.5L593 162.5" stroke="#774E8F" stroke-width="5" fill="none"/>
<rect x="596.7" y="159" width="22" height="22" fill="#fff"/><path d="M600.2 162.5L615.2 177.5M600.2 177.5L615.2 162.5" stroke="#774E8F" stroke-width="5" fill="none"/>
<rect x="618.8" y="159" width="22" height="22" fill="#fff"/><path d="M622.3 162.5L637.3 177.5M622.3 177.5L637.3 162.5" stroke="#774E8F" stroke-width="5" fill="none"/>
<rect x="641" y="159" width="22" height="22" fill="#fff"/><path d="M644.5 162.5L659.5 177.5M644.5 177.5L659.5 162.5" stroke="#774E8F" stroke-width="5" fill="none"/>
<rect x="663.1" y="159" width="22" height="22" fill="#fff"/><path d="M666.6 162.5L681.6 177.5M666.6 177.5L681.6 162.5" stroke="#774E8F" stroke-width="5" fill="none"/>
<rect x="686.9" y="589" width="22" height="22" fill="#fff"/><path d="M690.4 592.5L705.4 607.5M690.4 607.5L705.4 592.5" stroke="#774E8F" stroke-width="5" fill="none"/>
<rect x="709" y="632" width="22" height="22" fill="#fff"/><path d="M712.5 635.5L727.5 650.5M712.5 650.5L727.5 635.5" stroke="#774E8F" stroke-width="5" fill="none"/>
<rect x="731" y="625.4" width="22" height="22" fill="#fff"/><path d="M734.5 628.9L749.5 643.9M734.5 643.9L749.5 628.9" stroke="#774E8F" stroke-width="5" fill="none"/>
<rect x="753.1" y="624.8" width="22" height="22" fill="#fff"/><path d="M756.6 628.3L771.6 643.3M756.6 643.3L771.6 628.3" stroke="#774E8F" stroke-width="5" fill="none"/>
<rect x="775.2" y="624.8" width="22" height="22" fill="#fff"/><path d="M778.7 628.3L793.7 643.3M778.7 643.3L793.7 628.3" stroke="#774E8F" stroke-width="5" fill="none"/>
<rect x="797.2" y="623" width="22" height="22" fill="#fff"/><path d="M800.8 626.5L815.8 641.5M800.8 641.5L815.8 626.5" stroke="#774E8F" stroke-width="5" fill="none"/>
<rect x="819.3" y="616.9" width="22" height="22" fill="#fff"/><path d="M822.8 620.4L837.8 635.4M822.8 635.4L837.8 620.4" stroke="#774E8F" stroke-width="5" fill="none"/>
<rect x="841.4" y="614.5" width="22" height="22" fill="#fff"/><path d="M844.9 618L859.9 633M844.9 633L859.9 618" stroke="#774E8F" stroke-width="5" fill="none"/>
<rect x="863.5" y="620.5" width="22" height="22" fill="#fff"/><path d="M867 624L882 639M867 639L882 624" stroke="#774E8F" stroke-width="5" fill="none"/>
<rect x="885.5" y="621.1" width="22" height="22" fill="#fff"/><path d="M889 624.6L904 639.6M889 639.6L904 624.6" stroke="#774E8F" stroke-width="5" fill="none"/>
<rect x="907.6" y="621.1" width="22" height="22" fill="#fff"/><path d="M911.1 624.6L926.1 639.6M911.1 639.6L926.1 624.6" stroke="#774E8F" stroke-width="5" fill="none"/>
<rect x="929.7" y="616.9" width="22" height="22" fill="#fff"/><path d="M933.2 620.4L948.2 635.4M933.2 635.4L948.2 620.4" stroke="#774E8F" stroke-width="5" fill="none"/>
<rect x="951.7" y="612.7" width="22" height="22" fill="#fff"/><path d="M955.2 616.2L970.2 631.2M955.2 631.2L970.2 616.2" stroke="#774E8F" stroke-width="5" fill="none"/>
<rect x="973.8" y="616.9" width="22" height="22" fill="#fff"/><path d="M977.3 620.4L992.3 635.4M977.3 635.4L992.3 620.4" stroke="#774E8F" stroke-width="5" fill="none"/>
<rect x="995.9" y="621.1" width="22" height="22" fill="#fff"/><path d="M999.4 624.6L1014.4 639.6M999.4 639.6L1014.4 624.6" stroke="#774E8F" stroke-width="5" fill="none"/>
<rect x="1018" y="621.1" width="22" height="22" fill="#fff"/><path d="M1021.5 624.6L1036.5 639.6M1021.5 639.6L1036.5 624.6" stroke="#774E8F" stroke-width="5" fill="none"/>
<rect x="1040" y="614.5" width="22" height="22" fill="#fff"/><path d="M1043.5 618L1058.5 633M1043.5 633L1058.5 618" stroke="#774E8F" stroke-width="5" fill="none"/>
<rect x="1062.1" y="612.7" width="22" height="22" fill="#fff"/><path d="M1065.6 616.2L1080.6 631.2M1065.6 631.2L1080.6 616.2" stroke="#774E8F" stroke-width="5" fill="none"/>
<rect x="1084.2" y="612.7" width="22" height="22" fill="#fff"/><path d="M1087.7 616.2L1102.7 631.2M1087.7 631.2L1102.7 616.2" stroke="#774E8F" stroke-width="5" fill="none"/>
<rect x="1106.2" y="614.5" width="22" height="22" fill="#fff"/><path d="M1109.7 618L1124.7 633M1109.7 633L1124.7 618" stroke="#774E8F" stroke-width="5" fill="none"/>
<rect x="1129.5" y="413" width="22" height="22" fill="#fff"/><path d="M1133 416.5L1148 431.5M1133 431.5L1148 416.5" stroke="#774E8F" stroke-width="5" fill="none"/>
<rect x="1151.6" y="233.3" width="22" height="22" fill="#fff"/><path d="M1155.1 236.8L1170.1 251.8M1155.1 251.8L1170.1 236.8" stroke="#774E8F" stroke-width="5" fill="none"/>
<rect x="1173.7" y="167" width="22" height="22" fill="#fff"/><path d="M1177.2 170.5L1192.2 185.5M1177.2 185.5L1192.2 170.5" stroke="#774E8F" stroke-width="5" fill="none"/>
<rect x="1195.8" y="161" width="22" height="22" fill="#fff"/><path d="M1199.3 164.5L1214.3 179.5M1199.3 179.5L1214.3 164.5" stroke="#774E8F" stroke-width="5" fill="none"/>
<rect x="1217.9" y="159" width="22" height="22" fill="#fff"/><path d="M1221.4 162.5L1236.4 177.5M1221.4 177.5L1236.4 162.5" stroke="#774E8F" stroke-width="5" fill="none"/>
<rect x="1240" y="157" width="22" height="22" fill="#fff"/><path d="M1243.5 160.5L1258.5 175.5M1243.5 175.5L1258.5 160.5" stroke="#774E8F" stroke-width="5" fill="none"/>
<rect x="1262.1" y="157" width="22" height="22" fill="#fff"/><path d="M1265.6 160.5L1280.6 175.5M1265.6 175.5L1280.6 160.5" stroke="#774E8F" stroke-width="5" fill="none"/>
<rect x="1284.2" y="157" width="22" height="22" fill="#fff"/><path d="M1287.7 160.5L1302.7 175.5M1287.7 175.5L1302.7 160.5" stroke="#774E8F" stroke-width="5" fill="none"/>
<rect x="1306.3" y="157" width="22" height="22" fill="#fff"/><path d="M1309.8 160.5L1324.8 175.5M1309.8 175.5L1324.8 160.5" stroke="#774E8F" stroke-width="5" fill="none"/>
<rect x="1328.4" y="157" width="22" height="22" fill="#fff"/><path d="M1331.9 160.5L1346.9 175.5M1331.9 175.5L1346.9 160.5" stroke="#774E8F" stroke-width="5" fill="none"/>
<rect x="1350.5" y="163" width="22" height="22" fill="#fff"/><path d="M1354 166.5L1369 181.5M1354 181.5L1369 166.5" stroke="#774E8F" stroke-width="5" fill="none"/>
<rect x="1372.6" y="157" width="22" height="22" fill="#fff"/><path d="M1376.1 160.5L1391.1 175.5M1376.1 175.5L1391.1 160.5" stroke="#774E8F" stroke-width="5" fill="none"/>
<rect x="1394.7" y="157" width="22" height="22" fill="#fff"/><path d="M1398.2 160.5L1413.2 175.5M1398.2 175.5L1413.2 160.5" stroke="#774E8F" stroke-width="5" fill="none"/>
<rect x="1416.8" y="157" width="22" height="22" fill="#fff"/><path d="M1420.3 160.5L1435.3 175.5M1420.3 175.5L1435.3 160.5" stroke="#774E8F" stroke-width="5" fill="none"/>
<rect x="1438.9" y="159" width="22" height="22" fill="#fff"/><path d="M1442.4 162.5L1457.4 177.5M1442.4 177.5L1457.4 162.5" stroke="#774E8F" stroke-width="5" fill="none"/>
<rect x="1461" y="150" width="22" height="22" fill="#fff"/><path d="M1464.5 153.5L1479.5 168.5M1464.5 168.5L1479.5 153.5" stroke="#774E8F" stroke-width="5" fill="none"/>
<rect x="1483.1" y="150" width="22" height="22" fill="#fff"/><path d="M1486.6 153.5L1501.6 168.5M1486.6 168.5L1501.6 153.5" stroke="#774E8F" stroke-width="5" fill="none"/>
<rect x="1505.2" y="150" width="22" height="22" fill="#fff"/><path d="M1508.7 153.5L1523.7 168.5M1508.7 168.5L1523.7 153.5" stroke="#774E8F" stroke-width="5" fill="none"/>
<rect x="1527.3" y="150" width="22" height="22" fill="#fff"/><path d="M1530.8 153.5L1545.8 168.5M1530.8 168.5L1545.8 153.5" stroke="#774E8F" stroke-width="5" fill="none"/>
<rect x="1549.4" y="150" width="22" height="22" fill="#fff"/><path d="M1552.9 153.5L1567.9 168.5M1552.9 168.5L1567.9 153.5" stroke="#774E8F" stroke-width="5" fill="none"/>
<rect x="1571.5" y="150" width="22" height="22" fill="#fff"/><path d="M1575 153.5L1590 168.5M1575 168.5L1590 153.5" stroke="#774E8F" stroke-width="5" fill="none"/>
<rect x="1593.6" y="150" width="22" height="22" fill="#fff"/><path d="M1597.1 153.5L1612.1 168.5M1597.1 168.5L1612.1 153.5" stroke="#774E8F" stroke-width="5" fill="none"/>
<rect x="1615.7" y="150" width="22" height="22" fill="#fff"/><path d="M1619.2 153.5L1634.2 168.5M1619.2 168.5L1634.2 153.5" stroke="#774E8F" stroke-width="5" fill="none"/>
<rect x="1637.8" y="150" width="22" height="22" fill="#fff"/><path d="M1641.3 153.5L1656.3 168.5M1641.3 168.5L1656.3 153.5" stroke="#774E8F" stroke-width="5" fill="none"/>
<rect x="1659.9" y="150" width="22" height="22" fill="#fff"/><path d="M1663.4 153.5L1678.4 168.5M1663.4 168.5L1678.4 153.5" stroke="#774E8F" stroke-width="5" fill="none"/>
<rect x="1682" y="150" width="22" height="22" fill="#fff"/><path d="M1685.5 153.5L1700.5 168.5M1685.5 168.5L1700.5 153.5" stroke="#774E8F" stroke-width="5" fill="none"/>
<rect x="1704.1" y="146" width="22" height="22" fill="#fff"/><path d="M1707.6 149.5L1722.6 164.5M1707.6 164.5L1722.6 149.5" stroke="#774E8F" stroke-width="5" fill="none"/>
<rect x="1726.2" y="146" width="22" height="22" fill="#fff"/><path d="M1729.7 149.5L1744.7 164.5M1729.7 164.5L1744.7 149.5" stroke="#774E8F" stroke-width="5" fill="none"/>
<rect x="1748.3" y="146" width="22" height="22" fill="#fff"/><path d="M1751.8 149.5L1766.8 164.5M1751.8 164.5L1766.8 149.5" stroke="#774E8F" stroke-width="5" fill="none"/>
<rect x="1770.4" y="146" width="22" height="22" fill="#fff"/><path d="M1773.9 149.5L1788.9 164.5M1773.9 164.5L1788.9 149.5" stroke="#774E8F" stroke-width="5" fill="none"/>
<rect x="1792.5" y="142" width="22" height="22" fill="#fff"/><path d="M1796 145.5L1811 160.5M1796 160.5L1811 145.5" stroke="#774E8F" stroke-width="5" fill="none"/>
<rect x="1814.6" y="142" width="22" height="22" fill="#fff"/><path d="M1818.1 145.5L1833.1 160.5M1818.1 160.5L1833.1 145.5" stroke="#774E8F" stroke-width="5" fill="none"/>
<rect x="1836.7" y="142" width="22" height="22" fill="#fff"/><path d="M1840.2 145.5L1855.2 160.5M1840.2 160.5L1855.2 145.5" stroke="#774E8F" stroke-width="5" fill="none"/>
<rect x="1858.8" y="142" width="22" height="22" fill="#fff"/><path d="M1862.3 145.5L1877.3 160.5M1862.3 160.5L1877.3 145.5" stroke="#774E8F" stroke-width="5" fill="none"/>
<rect x="1880.9" y="142" width="22" height="22" fill="#fff"/><path d="M1884.4 145.5L1899.4 160.5M1884.4 160.5L1899.4 145.5" stroke="#774E8F" stroke-width="5" fill="none"/>
<rect x="1903" y="138" width="22" height="22" fill="#fff"/><path d="M1906.5 141.5L1921.5 156.5M1906.5 156.5L1921.5 141.5" stroke="#774E8F" stroke-width="5" fill="none"/>
<rect x="1925.1" y="142" width="22" height="22" fill="#fff"/><path d="M1928.6 145.5L1943.6 160.5M1928.6 160.5L1943.6 145.5" stroke="#774E8F" stroke-width="5" fill="none"/>
<rect x="1947.2" y="142" width="22" height="22" fill="#fff"/><path d="M1950.7 145.5L1965.7 160.5M1950.7 160.5L1965.7 145.5" stroke="#774E8F" stroke-width="5" fill="none"/>
<rect x="1969.3" y="142" width="22" height="22" fill="#fff"/><path d="M1972.8 145.5L1987.8 160.5M1972.8 160.5L1987.8 145.5" stroke="#774E8F" stroke-width="5" fill="none"/>
<rect x="1991.4" y="142" width="22" height="22" fill="#fff"/><path d="M1994.9 145.5L2009.9 160.5M1994.9 160.5L2009.9 145.5" stroke="#774E8F" stroke-width="5" fill="none"/>
</g>
<g id="s-red">
<path d="M253.3 149.5C255.5 149.5 273.2 149.5 275.4 149.5C277.7 149.5 295.4 149.5 297.6 149.5C299.8 149.5 317.5 149.5 319.8 149.5C322 149.5 339.7 149.5 341.9 149.5C344.1 149.5 361.8 149.4 364.1 149.5C366.3 149.6 384 151.2 386.2 151.3C388.4 151.4 406.1 151.3 408.4 151.3C410.6 151.3 428.3 151.3 430.5 151.3C432.7 151.3 450.4 151.2 452.6 151.3C454.9 151.4 472.6 152.9 474.8 153C477 153.1 494.7 153 496.9 153C499.2 153 516.9 153 519.1 153C521.3 153 539 153 541.2 153C543.5 153 561.2 153 563.4 153C565.6 153 583.3 152.9 585.5 153C587.8 153.2 605.5 155.8 607.7 156C609.9 156.1 627.6 156 629.8 156C632.1 156 649.8 156 652 156C654.2 156 674 153.9 674.1 156C678.6 207.2 693.5 638.7 697.9 688.8C698.1 691 717.7 680.1 720 679.7C722.1 679.3 739.8 680.4 742 680.3C744.3 680.2 761.9 678.9 764.1 678.5C766.4 678.1 783.9 672.7 786.2 672.4C788.3 672.1 806 672.3 808.2 672.4C810.5 672.5 828.1 674.3 830.3 674.3C832.5 674.3 850.2 672.3 852.4 672.4C854.6 672.5 872.2 676 874.5 676.1C876.7 676.2 894.3 674.4 896.5 674.3C898.7 674.2 916.4 674.2 918.6 674.3C920.8 674.4 938.5 676.1 940.7 676.1C942.9 676.1 960.5 674.6 962.7 674.3C965 674 982.6 670.2 984.8 670C987 669.8 1004.7 670 1006.9 670C1009.1 670 1026.7 670 1029 670C1031.2 670 1048.8 670.1 1051 670C1053.2 669.9 1070.9 668.5 1073.1 668.2C1075.3 667.9 1092.9 664.3 1095.2 664C1097.4 663.7 1116.6 664 1117.2 662.1C1121.1 651.1 1139.2 548.3 1140.5 535.5C1143.7 505 1159 259.5 1162.6 229.2C1163.4 222.5 1181.4 170.7 1184.7 165.6C1185.8 163.9 1204.6 161.9 1206.8 161.3C1209.1 160.7 1226.6 154 1228.9 153.7C1231.1 153.4 1248.8 155.3 1251 155.5C1253.2 155.7 1270.9 157.5 1273.1 157.3C1275.3 157.1 1293 152.4 1295.2 152.4C1297.4 152.4 1315.1 157.1 1317.3 157.3C1319.5 157.5 1337.2 157.3 1339.4 157.3C1341.6 157.3 1359.3 157.9 1361.5 158C1363.7 158.1 1381.4 159.8 1383.6 159.7C1385.8 159.6 1403.5 155.7 1405.7 155.5C1407.9 155.3 1425.6 155.6 1427.8 155.5C1430 155.4 1447.7 153 1449.9 153C1452.1 153 1469.8 155.8 1472 156C1474.2 156.1 1491.9 156 1494.1 156C1496.3 156 1514 156 1516.2 156C1518.4 156 1536.1 156 1538.3 156C1540.5 156 1558.2 156 1560.4 156C1562.6 156 1580.3 156 1582.5 156C1584.7 156 1602.4 156 1604.6 156C1606.8 156 1624.5 156 1626.7 156C1628.9 156 1646.6 156 1648.8 156C1651 156 1668.7 156 1670.9 156C1673.1 156 1690.8 156 1693 156C1695.2 156 1712.9 156 1715.1 156C1717.3 156 1735 156 1737.2 156C1739.4 156 1757.1 156 1759.3 156C1761.5 156 1779.2 156 1781.4 156C1783.6 156 1801.3 156 1803.5 156C1805.7 156 1823.4 156 1825.6 156C1827.8 156 1845.5 156 1847.7 156C1849.9 156 1867.6 156 1869.8 156C1872 156 1889.7 156 1891.9 156C1894.1 156 1911.8 156 1914 156C1916.2 156 1933.9 156 1936.1 156C1938.3 156 1956 156 1958.2 156C1960.4 156 1978.1 156 1980.3 156C1982.5 156 2000.2 156 2002.4 156" fill="none" stroke="#FF0000" stroke-width="6" stroke-linejoin="round" stroke-linecap="round"/>
<circle cx="253.3" cy="149.5" r="10" fill="#FF0000"/>
<circle cx="275.4" cy="149.5" r="10" fill="#FF0000"/>
<circle cx="297.6" cy="149.5" r="10" fill="#FF0000"/>
<circle cx="319.8" cy="149.5" r="10" fill="#FF0000"/>
<circle cx="341.9" cy="149.5" r="10" fill="#FF0000"/>
<circle cx="364.1" cy="149.5" r="10" fill="#FF0000"/>
<circle cx="386.2" cy="151.3" r="10" fill="#FF0000"/>
<circle cx="408.4" cy="151.3" r="10" fill="#FF0000"/>
<circle cx="430.5" cy="151.3" r="10" fill="#FF0000"/>
<circle cx="452.6" cy="151.3" r="10" fill="#FF0000"/>
<circle cx="474.8" cy="153" r="10" fill="#FF0000"/>
<circle cx="496.9" cy="153" r="10" fill="#FF0000"/>
<circle cx="519.1" cy="153" r="10" fill="#FF0000"/>
<circle cx="541.2" cy="153" r="10" fill="#FF0000"/>
<circle cx="563.4" cy="153" r="10" fill="#FF0000"/>
<circle cx="585.5" cy="153" r="10" fill="#FF0000"/>
<circle cx="607.7" cy="156" r="10" fill="#FF0000"/>
<circle cx="629.8" cy="156" r="10" fill="#FF0000"/>
<circle cx="652" cy="156" r="10" fill="#FF0000"/>
<circle cx="674.1" cy="156" r="10" fill="#FF0000"/>
<circle cx="697.9" cy="688.8" r="10" fill="#FF0000"/>
<circle cx="720" cy="679.7" r="10" fill="#FF0000"/>
<circle cx="742" cy="680.3" r="10" fill="#FF0000"/>
<circle cx="764.1" cy="678.5" r="10" fill="#FF0000"/>
<circle cx="786.2" cy="672.4" r="10" fill="#FF0000"/>
<circle cx="808.2" cy="672.4" r="10" fill="#FF0000"/>
<circle cx="830.3" cy="674.3" r="10" fill="#FF0000"/>
<circle cx="852.4" cy="672.4" r="10" fill="#FF0000"/>
<circle cx="874.5" cy="676.1" r="10" fill="#FF0000"/>
<circle cx="896.5" cy="674.3" r="10" fill="#FF0000"/>
<circle cx="918.6" cy="674.3" r="10" fill="#FF0000"/>
<circle cx="940.7" cy="676.1" r="10" fill="#FF0000"/>
<circle cx="962.7" cy="674.3" r="10" fill="#FF0000"/>
<circle cx="984.8" cy="670" r="10" fill="#FF0000"/>
<circle cx="1006.9" cy="670" r="10" fill="#FF0000"/>
<circle cx="1029" cy="670" r="10" fill="#FF0000"/>
<circle cx="1051" cy="670" r="10" fill="#FF0000"/>
<circle cx="1073.1" cy="668.2" r="10" fill="#FF0000"/>
<circle cx="1095.2" cy="664" r="10" fill="#FF0000"/>
<circle cx="1117.2" cy="662.1" r="10" fill="#FF0000"/>
<circle cx="1140.5" cy="535.5" r="10" fill="#FF0000"/>
<circle cx="1162.6" cy="229.2" r="10" fill="#FF0000"/>
<circle cx="1184.7" cy="165.6" r="10" fill="#FF0000"/>
<circle cx="1206.8" cy="161.3" r="10" fill="#FF0000"/>
<circle cx="1228.9" cy="153.7" r="10" fill="#FF0000"/>
<circle cx="1251" cy="155.5" r="10" fill="#FF0000"/>
<circle cx="1273.1" cy="157.3" r="10" fill="#FF0000"/>
<circle cx="1295.2" cy="152.4" r="10" fill="#FF0000"/>
<circle cx="1317.3" cy="157.3" r="10" fill="#FF0000"/>
<circle cx="1339.4" cy="157.3" r="10" fill="#FF0000"/>
<circle cx="1361.5" cy="158" r="10" fill="#FF0000"/>
<circle cx="1383.6" cy="159.7" r="10" fill="#FF0000"/>
<circle cx="1405.7" cy="155.5" r="10" fill="#FF0000"/>
<circle cx="1427.8" cy="155.5" r="10" fill="#FF0000"/>
<circle cx="1449.9" cy="153" r="10" fill="#FF0000"/>
<circle cx="1472" cy="156" r="10" fill="#FF0000"/>
<circle cx="1494.1" cy="156" r="10" fill="#FF0000"/>
<circle cx="1516.2" cy="156" r="10" fill="#FF0000"/>
<circle cx="1538.3" cy="156" r="10" fill="#FF0000"/>
<circle cx="1560.4" cy="156" r="10" fill="#FF0000"/>
<circle cx="1582.5" cy="156" r="10" fill="#FF0000"/>
<circle cx="1604.6" cy="156" r="10" fill="#FF0000"/>
<circle cx="1626.7" cy="156" r="10" fill="#FF0000"/>
<circle cx="1648.8" cy="156" r="10" fill="#FF0000"/>
<circle cx="1670.9" cy="156" r="10" fill="#FF0000"/>
<circle cx="1693" cy="156" r="10" fill="#FF0000"/>
<circle cx="1715.1" cy="156" r="10" fill="#FF0000"/>
<circle cx="1737.2" cy="156" r="10" fill="#FF0000"/>
<circle cx="1759.3" cy="156" r="10" fill="#FF0000"/>
<circle cx="1781.4" cy="156" r="10" fill="#FF0000"/>
<circle cx="1803.5" cy="156" r="10" fill="#FF0000"/>
<circle cx="1825.6" cy="156" r="10" fill="#FF0000"/>
<circle cx="1847.7" cy="156" r="10" fill="#FF0000"/>
<circle cx="1869.8" cy="156" r="10" fill="#FF0000"/>
<circle cx="1891.9" cy="156" r="10" fill="#FF0000"/>
<circle cx="1914" cy="156" r="10" fill="#FF0000"/>
<circle cx="1936.1" cy="156" r="10" fill="#FF0000"/>
<circle cx="1958.2" cy="156" r="10" fill="#FF0000"/>
<circle cx="1980.3" cy="156" r="10" fill="#FF0000"/>
<circle cx="2002.4" cy="156" r="10" fill="#FF0000"/>
</g>
<g id="s-black">
<path d="M251.5 177C258.1 177 267 177 273.6 177C280.3 177 289.2 177 295.8 177C302.4 177 311.3 177 317.9 177C324.6 177 333.5 177 340.1 177C346.7 177 355.6 177 362.2 177C368.9 177 377.8 177 384.4 177C391 177 399.9 177 406.6 177C413.2 177 422.1 177 428.7 177C435.3 177 444.2 176.8 450.8 177C457.5 177.2 466.4 178 473 178.2C479.6 178.4 488.5 178.2 495.1 178.2C501.8 178.2 510.7 178.2 517.3 178.2C523.9 178.2 532.8 178.2 539.5 178.2C546.1 178.2 555 178.2 561.6 178.2C568.2 178.2 577.1 178.2 583.8 178.2C590.4 178.2 599.3 178.2 605.9 178.2C612.5 178.2 621.4 178.2 628 178.2C634.7 178.2 643.6 178.2 650.2 178.2C656.8 178.2 671.6 171.9 672.4 178.2C685.9 285.1 688.3 442.5 697.9 555.5C702.6 610.7 709.3 685.1 720 738.8C722.5 751.8 733.3 771.4 742 777.6C746.6 780.8 757.3 770.9 764.1 770.3C770.6 769.7 779.6 773.6 786.2 773.4C792.8 773.2 801.6 769.1 808.2 769.1C814.9 769.1 823.7 773.1 830.3 773.4C836.9 773.7 845.9 770.4 852.4 770.9C859.1 771.4 867.7 776.3 874.5 777C881 777.6 889.9 775.5 896.5 775.2C903.1 774.9 912.2 776.4 918.6 775.2C925.4 773.9 934 767 940.7 766.7C947.2 766.4 956 773 962.7 773.4C969.3 773.8 978.2 769.1 984.8 769.1C991.4 769.1 1000.2 772.7 1006.9 773.4C1013.4 774 1022.4 773.8 1029 773.4C1035.6 773 1044.4 771.5 1051 770.9C1057.6 770.3 1066.5 769.4 1073.1 769.1C1079.7 768.8 1088.8 770.3 1095.2 769.1C1102 767.8 1111.2 764.2 1117.2 760.6C1124.8 756.2 1139.5 751 1140.5 742.4C1153.1 633.8 1153.5 481.5 1162.6 370C1167 315.8 1174 241.5 1185.5 190C1187.3 182 1199.8 176 1206.8 171.5C1212.8 167.7 1222.1 163.3 1228.9 162.4C1235.3 161.6 1244.3 165.3 1251 166C1257.6 166.7 1266.5 166.6 1273.1 167.3C1279.8 168.1 1288.6 171.4 1295.2 171C1301.9 170.6 1310.6 165.7 1317.3 164.9C1323.8 164.2 1332.9 166.7 1339.4 166C1346.1 165.3 1354.8 160.2 1361.5 160C1368.1 159.8 1376.9 163.8 1383.6 164.9C1390.2 166 1399.1 166.9 1405.7 167.3C1412.3 167.7 1421.8 169.3 1427.8 167.3C1435 164.9 1442.7 154.9 1449.9 152.7C1455.9 150.9 1465.4 153.4 1472 154C1478.6 154.6 1487.5 155.9 1494.1 156.4C1500.7 156.9 1509.6 157.6 1516.2 157.6C1522.8 157.6 1531.7 156.4 1538.3 156.4C1544.9 156.4 1553.8 157.6 1560.4 157.6C1567 157.6 1575.9 156.4 1582.5 156.4C1589.1 156.4 1598 157.6 1604.6 157.6C1611.2 157.6 1620.1 156.4 1626.7 156.4C1633.3 156.4 1642.2 157.6 1648.8 157.6C1655.4 157.6 1664.3 156.4 1670.9 156.4C1677.5 156.4 1686.4 157.6 1693 157.6C1699.6 157.6 1708.5 156.4 1715.1 156.4C1721.7 156.4 1730.6 157.6 1737.2 157.6C1743.8 157.6 1752.7 156.4 1759.3 156.4C1765.9 156.4 1774.8 157.6 1781.4 157.6C1788 157.6 1796.9 156.4 1803.5 156.4C1810.1 156.4 1819 157.6 1825.6 157.6C1832.2 157.6 1841.1 156.4 1847.7 156.4C1854.3 156.4 1863.2 157.6 1869.8 157.6C1876.4 157.6 1885.3 156.4 1891.9 156.4C1898.5 156.4 1907.4 157.6 1914 157.6C1920.6 157.6 1929.5 156.4 1936.1 156.4C1942.7 156.4 1951.6 157.6 1958.2 157.6C1964.8 157.6 1973.7 156.4 1980.3 156.4C1986.9 156.4 1995.8 157.2 2002.4 157.6" fill="none" stroke="#000000" stroke-width="5.6" stroke-linejoin="round" stroke-linecap="round"/>
<path d="M251.5 166.8L261.3 177L251.5 187.2L241.7 177Z" fill="#000000"/>
<path d="M273.6 166.8L283.4 177L273.6 187.2L263.8 177Z" fill="#000000"/>
<path d="M295.8 166.8L305.6 177L295.8 187.2L286 177Z" fill="#000000"/>
<path d="M317.9 166.8L327.8 177L317.9 187.2L308.1 177Z" fill="#000000"/>
<path d="M340.1 166.8L349.9 177L340.1 187.2L330.3 177Z" fill="#000000"/>
<path d="M362.2 166.8L372.1 177L362.2 187.2L352.4 177Z" fill="#000000"/>
<path d="M384.4 166.8L394.2 177L384.4 187.2L374.6 177Z" fill="#000000"/>
<path d="M406.6 166.8L416.4 177L406.6 187.2L396.8 177Z" fill="#000000"/>
<path d="M428.7 166.8L438.5 177L428.7 187.2L418.9 177Z" fill="#000000"/>
<path d="M450.8 166.8L460.6 177L450.8 187.2L441 177Z" fill="#000000"/>
<path d="M473 168L482.8 178.2L473 188.4L463.2 178.2Z" fill="#000000"/>
<path d="M495.1 168L504.9 178.2L495.1 188.4L485.3 178.2Z" fill="#000000"/>
<path d="M517.3 168L527.1 178.2L517.3 188.4L507.5 178.2Z" fill="#000000"/>
<path d="M539.5 168L549.2 178.2L539.5 188.4L529.7 178.2Z" fill="#000000"/>
<path d="M561.6 168L571.4 178.2L561.6 188.4L551.8 178.2Z" fill="#000000"/>
<path d="M583.8 168L593.5 178.2L583.8 188.4L574 178.2Z" fill="#000000"/>
<path d="M605.9 168L615.7 178.2L605.9 188.4L596.1 178.2Z" fill="#000000"/>
<path d="M628 168L637.8 178.2L628 188.4L618.2 178.2Z" fill="#000000"/>
<path d="M650.2 168L660 178.2L650.2 188.4L640.4 178.2Z" fill="#000000"/>
<path d="M672.4 168L682.1 178.2L672.4 188.4L662.6 178.2Z" fill="#000000"/>
<path d="M697.9 545.3L707.7 555.5L697.9 565.7L688.1 555.5Z" fill="#000000"/>
<path d="M720 728.6L729.8 738.8L720 749L710.2 738.8Z" fill="#000000"/>
<path d="M742 767.4L751.8 777.6L742 787.8L732.2 777.6Z" fill="#000000"/>
<path d="M764.1 760.1L773.9 770.3L764.1 780.5L754.3 770.3Z" fill="#000000"/>
<path d="M786.2 763.2L796 773.4L786.2 783.6L776.4 773.4Z" fill="#000000"/>
<path d="M808.2 758.9L818 769.1L808.2 779.3L798.5 769.1Z" fill="#000000"/>
<path d="M830.3 763.2L840.1 773.4L830.3 783.6L820.5 773.4Z" fill="#000000"/>
<path d="M852.4 760.7L862.2 770.9L852.4 781.1L842.6 770.9Z" fill="#000000"/>
<path d="M874.5 766.8L884.3 777L874.5 787.2L864.7 777Z" fill="#000000"/>
<path d="M896.5 765L906.3 775.2L896.5 785.4L886.7 775.2Z" fill="#000000"/>
<path d="M918.6 765L928.4 775.2L918.6 785.4L908.8 775.2Z" fill="#000000"/>
<path d="M940.7 756.5L950.5 766.7L940.7 776.9L930.9 766.7Z" fill="#000000"/>
<path d="M962.7 763.2L972.5 773.4L962.7 783.6L952.9 773.4Z" fill="#000000"/>
<path d="M984.8 758.9L994.6 769.1L984.8 779.3L975 769.1Z" fill="#000000"/>
<path d="M1006.9 763.2L1016.7 773.4L1006.9 783.6L997.1 773.4Z" fill="#000000"/>
<path d="M1029 763.2L1038.8 773.4L1029 783.6L1019.2 773.4Z" fill="#000000"/>
<path d="M1051 760.7L1060.8 770.9L1051 781.1L1041.2 770.9Z" fill="#000000"/>
<path d="M1073.1 758.9L1082.9 769.1L1073.1 779.3L1063.3 769.1Z" fill="#000000"/>
<path d="M1095.2 758.9L1105 769.1L1095.2 779.3L1085.4 769.1Z" fill="#000000"/>
<path d="M1117.2 750.4L1127 760.6L1117.2 770.8L1107.4 760.6Z" fill="#000000"/>
<path d="M1140.5 732.2L1150.3 742.4L1140.5 752.6L1130.7 742.4Z" fill="#000000"/>
<path d="M1162.6 359.8L1172.4 370L1162.6 380.2L1152.8 370Z" fill="#000000"/>
<path d="M1206.8 161.3L1216.6 171.5L1206.8 181.7L1197 171.5Z" fill="#000000"/>
<path d="M1228.9 152.2L1238.7 162.4L1228.9 172.6L1219.1 162.4Z" fill="#000000"/>
<path d="M1251 155.8L1260.8 166L1251 176.2L1241.2 166Z" fill="#000000"/>
<path d="M1273.1 157.1L1282.9 167.3L1273.1 177.5L1263.3 167.3Z" fill="#000000"/>
<path d="M1295.2 160.8L1305 171L1295.2 181.2L1285.4 171Z" fill="#000000"/>
<path d="M1317.3 154.7L1327.1 164.9L1317.3 175.1L1307.5 164.9Z" fill="#000000"/>
<path d="M1339.4 155.8L1349.2 166L1339.4 176.2L1329.6 166Z" fill="#000000"/>
<path d="M1361.5 149.8L1371.3 160L1361.5 170.2L1351.7 160Z" fill="#000000"/>
<path d="M1383.6 154.7L1393.4 164.9L1383.6 175.1L1373.8 164.9Z" fill="#000000"/>
<path d="M1405.7 157.1L1415.5 167.3L1405.7 177.5L1395.9 167.3Z" fill="#000000"/>
<path d="M1427.8 157.1L1437.6 167.3L1427.8 177.5L1418 167.3Z" fill="#000000"/>
<path d="M1449.9 142.5L1459.7 152.7L1449.9 162.9L1440.1 152.7Z" fill="#000000"/>
<path d="M1472 143.8L1481.8 154L1472 164.2L1462.2 154Z" fill="#000000"/>
<path d="M1494.1 146.2L1503.9 156.4L1494.1 166.6L1484.3 156.4Z" fill="#000000"/>
<path d="M1516.2 147.4L1526 157.6L1516.2 167.8L1506.4 157.6Z" fill="#000000"/>
<path d="M1538.3 146.2L1548.1 156.4L1538.3 166.6L1528.5 156.4Z" fill="#000000"/>
<path d="M1560.4 147.4L1570.2 157.6L1560.4 167.8L1550.6 157.6Z" fill="#000000"/>
<path d="M1582.5 146.2L1592.3 156.4L1582.5 166.6L1572.7 156.4Z" fill="#000000"/>
<path d="M1604.6 147.4L1614.4 157.6L1604.6 167.8L1594.8 157.6Z" fill="#000000"/>
<path d="M1626.7 146.2L1636.5 156.4L1626.7 166.6L1616.9 156.4Z" fill="#000000"/>
<path d="M1648.8 147.4L1658.6 157.6L1648.8 167.8L1639 157.6Z" fill="#000000"/>
<path d="M1670.9 146.2L1680.7 156.4L1670.9 166.6L1661.1 156.4Z" fill="#000000"/>
<path d="M1693 147.4L1702.8 157.6L1693 167.8L1683.2 157.6Z" fill="#000000"/>
<path d="M1715.1 146.2L1724.9 156.4L1715.1 166.6L1705.3 156.4Z" fill="#000000"/>
<path d="M1737.2 147.4L1747 157.6L1737.2 167.8L1727.4 157.6Z" fill="#000000"/>
<path d="M1759.3 146.2L1769.1 156.4L1759.3 166.6L1749.5 156.4Z" fill="#000000"/>
<path d="M1781.4 147.4L1791.2 157.6L1781.4 167.8L1771.6 157.6Z" fill="#000000"/>
<path d="M1803.5 146.2L1813.3 156.4L1803.5 166.6L1793.7 156.4Z" fill="#000000"/>
<path d="M1825.6 147.4L1835.4 157.6L1825.6 167.8L1815.8 157.6Z" fill="#000000"/>
<path d="M1847.7 146.2L1857.5 156.4L1847.7 166.6L1837.9 156.4Z" fill="#000000"/>
<path d="M1869.8 147.4L1879.6 157.6L1869.8 167.8L1860 157.6Z" fill="#000000"/>
<path d="M1891.9 146.2L1901.7 156.4L1891.9 166.6L1882.1 156.4Z" fill="#000000"/>
<path d="M1914 147.4L1923.8 157.6L1914 167.8L1904.2 157.6Z" fill="#000000"/>
<path d="M1936.1 146.2L1945.9 156.4L1936.1 166.6L1926.3 156.4Z" fill="#000000"/>
<path d="M1958.2 147.4L1968 157.6L1958.2 167.8L1948.4 157.6Z" fill="#000000"/>
<path d="M1980.3 146.2L1990.1 156.4L1980.3 166.6L1970.5 156.4Z" fill="#000000"/>
<path d="M2002.4 147.4L2012.2 157.6L2002.4 167.8L1992.6 157.6Z" fill="#000000"/>
</g>
<g id="s-cyan">
<path d="M253.3 165C260.6 165 268.1 165 275.4 165C282.8 165 290.3 165 297.6 165C304.9 165 312.4 165 319.8 165C327.1 165 334.6 165 341.9 165C349.2 165 356.7 165 364.1 165.1C371.4 165.1 378.9 165.1 386.2 165.1C393.5 165.1 401 165.1 408.4 165.1C415.7 165.1 423.2 165.1 430.5 165.1C437.8 165.1 445.3 165.1 452.6 165.1C460 165.1 467.5 165.1 474.8 165.1C482.1 165.1 489.6 165.1 496.9 165.1C504.3 165.1 511.8 165.1 519.1 165.1C526.4 165.1 533.9 165.1 541.2 165.1C548.6 165.1 556.1 165.1 563.4 165.1C570.7 165.2 578.2 165.2 585.5 165.2C592.9 165.2 600.4 165.2 607.7 165.2C615 165.2 622.5 165.2 629.8 165.2C637.2 165.2 644.7 165.2 652 165.2C659.3 165.2 669.2 162.2 674.1 165.2C677.8 167.4 678 175.6 678.2 181C685.8 399.3 685.4 625.7 697.9 843C699.1 864.7 709.7 886.8 720 905.2C724.3 913 733.9 919.1 742 922.4C748.5 925 756.8 922.5 764.1 923C771.4 923.5 778.9 925.1 786.2 925.5C793.4 925.9 801 926.2 808.2 925.5C815.6 924.8 823 921.5 830.3 921.2C837.6 920.9 845.1 923 852.4 923.7C859.7 924.4 867.2 925.6 874.5 925.5C881.8 925.4 889.3 923.9 896.5 923C903.8 922.1 911.4 921.6 918.6 920C926 918.4 933.3 914.9 940.7 913.4C947.8 911.9 955.4 911.4 962.7 911C970 910.6 977.5 911.3 984.8 911C992.1 910.7 999.6 909.4 1006.9 909.1C1014.1 908.8 1021.7 909.1 1029 909.1C1036.2 909.1 1043.8 909.8 1051 909.1C1058.4 908.4 1065.8 906 1073.1 904.9C1080.3 903.8 1087.9 903.1 1095.2 902.4C1102.4 901.7 1111.3 904 1117.2 900.6C1126.3 895.3 1139.6 887 1140.5 876C1154.5 711.9 1151.8 536.7 1162.6 370C1166.4 312 1172 249.5 1184.7 195C1186.6 186.8 1201.1 186.5 1206.8 180C1215.7 170 1221.3 145.7 1228.9 145C1235.9 144.4 1241.9 170.7 1251 176C1256.5 179.1 1266 169.8 1273.1 170.5C1280.6 171.2 1288.2 176.6 1295.2 180.4C1302.8 184.5 1311.2 196.5 1317.3 194.5C1325.7 191.7 1332.4 165.4 1339.4 166C1347 166.7 1353.5 196.9 1361.5 198.5C1368.1 199.8 1375.6 176.7 1383.6 175C1390.1 173.6 1397.8 186.6 1405.7 189.2C1412.4 191.4 1420.6 190.3 1427.8 189.5C1435.2 188.6 1442.9 186.5 1449.9 184C1457.5 181.3 1464.3 175.4 1472 173.5C1478.9 171.8 1486.8 173.1 1494.1 173C1501.4 172.9 1508.9 173 1516.2 173C1523.5 173 1531 173 1538.3 173C1545.6 173 1553.1 173 1560.4 173C1567.7 173 1575.2 173 1582.5 173C1589.8 173 1597.3 173 1604.6 173C1611.9 173 1619.4 173 1626.7 173C1634 173 1641.5 173 1648.8 173C1656.1 173 1663.6 173 1670.9 173C1678.2 173 1685.7 173 1693 173C1700.3 173 1707.8 173 1715.1 173C1722.4 173 1729.9 173 1737.2 173C1744.5 173 1752 173 1759.3 173C1766.6 173 1774.1 173 1781.4 173C1788.7 173 1796.2 173 1803.5 173C1810.8 173 1818.4 173.6 1825.6 173C1832.9 172.4 1840.4 169.5 1847.7 169.5C1855 169.5 1862.5 172.4 1869.8 173C1877 173.6 1884.6 173 1891.9 173C1899.2 173 1906.7 173 1914 173C1921.3 173 1928.8 173 1936.1 173C1943.4 173 1950.9 173 1958.2 173C1965.5 173 1973 173 1980.3 173C1987.6 173 1995.1 173 2002.4 173" fill="none" stroke="#0096FF" stroke-width="6.5" stroke-linejoin="round" stroke-linecap="round"/>
<path d="M251.3 165C256.1 165 270.6 165 275.4 165C279.9 165 293.2 165 297.6 165C302 165 315.3 165 319.8 165C324.2 165 337.5 165 341.9 165C346.3 165 359.6 165.1 364.1 165.1C368.5 165.1 381.8 165.1 386.2 165.1C390.6 165.1 403.9 165.1 408.4 165.1C412.8 165.1 426.1 165.1 430.5 165.1C434.9 165.1 448.2 165.1 452.6 165.1C457.1 165.1 470.4 165.1 474.8 165.1C479.2 165.1 492.5 165.1 496.9 165.1C501.4 165.1 514.7 165.1 519.1 165.1C523.5 165.1 536.8 165.1 541.2 165.1C545.7 165.1 559 165.1 563.4 165.1C567.8 165.1 581.1 165.2 585.5 165.2C590 165.2 603.3 165.2 607.7 165.2C612.1 165.2 625.4 165.2 629.8 165.2C634.3 165.2 647.6 165.2 652 165.2C656.4 165.2 669.7 165.2 674.1 165.2C676.3 165.2 682.9 165.2 685.1 165.2" fill="none" stroke="#0096FF" stroke-width="11.5" stroke-linejoin="round"/>
<path d="M1472 173.5C1476.4 173.4 1489.7 173.1 1494.1 173C1498.5 173 1511.8 173 1516.2 173C1520.6 173 1533.9 173 1538.3 173C1542.7 173 1556 173 1560.4 173C1564.8 173 1578.1 173 1582.5 173C1586.9 173 1600.2 173 1604.6 173C1609 173 1622.3 173 1626.7 173C1631.1 173 1644.4 173 1648.8 173C1653.2 173 1666.5 173 1670.9 173C1675.3 173 1688.6 173 1693 173C1697.4 173 1710.7 173 1715.1 173C1719.5 173 1732.8 173 1737.2 173C1741.6 173 1754.9 173 1759.3 173C1763.7 173 1777 173 1781.4 173C1785.8 173 1799.1 173 1803.5 173C1807.9 173 1821.2 173.3 1825.6 173C1830 172.6 1843.3 169.5 1847.7 169.5C1852.1 169.5 1865.4 172.6 1869.8 173C1874.2 173.3 1887.5 173 1891.9 173C1896.3 173 1909.6 173 1914 173C1918.4 173 1931.7 173 1936.1 173C1940.5 173 1953.8 173 1958.2 173C1962.6 173 1975.9 173 1980.3 173C1984.7 173 1998 173 2002.4 173C2004.8 173 2012 173 2014.4 173" fill="none" stroke="#0096FF" stroke-width="11.5" stroke-linejoin="round"/>
<rect x="252.7" y="160" width="13.6" height="10" rx="4" fill="#0096FF"/>
<rect x="274.8" y="160" width="13.6" height="10" rx="4" fill="#0096FF"/>
<rect x="297" y="160" width="13.6" height="10" rx="4" fill="#0096FF"/>
<rect x="319.1" y="160" width="13.6" height="10" rx="4" fill="#0096FF"/>
<rect x="341.3" y="160" width="13.6" height="10" rx="4" fill="#0096FF"/>
<rect x="363.4" y="160.1" width="13.6" height="10" rx="4" fill="#0096FF"/>
<rect x="385.6" y="160.1" width="13.6" height="10" rx="4" fill="#0096FF"/>
<rect x="407.8" y="160.1" width="13.6" height="10" rx="4" fill="#0096FF"/>
<rect x="429.9" y="160.1" width="13.6" height="10" rx="4" fill="#0096FF"/>
<rect x="452" y="160.1" width="13.6" height="10" rx="4" fill="#0096FF"/>
<rect x="474.2" y="160.1" width="13.6" height="10" rx="4" fill="#0096FF"/>
<rect x="496.3" y="160.1" width="13.6" height="10" rx="4" fill="#0096FF"/>
<rect x="518.5" y="160.1" width="13.6" height="10" rx="4" fill="#0096FF"/>
<rect x="540.6" y="160.1" width="13.6" height="10" rx="4" fill="#0096FF"/>
<rect x="562.8" y="160.1" width="13.6" height="10" rx="4" fill="#0096FF"/>
<rect x="584.9" y="160.2" width="13.6" height="10" rx="4" fill="#0096FF"/>
<rect x="607.1" y="160.2" width="13.6" height="10" rx="4" fill="#0096FF"/>
<rect x="629.2" y="160.2" width="13.6" height="10" rx="4" fill="#0096FF"/>
<rect x="651.4" y="160.2" width="13.6" height="10" rx="4" fill="#0096FF"/>
<rect x="673.5" y="160.2" width="13.6" height="10" rx="4" fill="#0096FF"/>
<rect x="697.3" y="838" width="13.6" height="10" rx="4" fill="#0096FF"/>
<rect x="719.4" y="900.2" width="13.6" height="10" rx="4" fill="#0096FF"/>
<rect x="741.4" y="917.4" width="13.6" height="10" rx="4" fill="#0096FF"/>
<rect x="763.5" y="918" width="13.6" height="10" rx="4" fill="#0096FF"/>
<rect x="785.6" y="920.5" width="13.6" height="10" rx="4" fill="#0096FF"/>
<rect x="807.6" y="920.5" width="13.6" height="10" rx="4" fill="#0096FF"/>
<rect x="829.7" y="916.2" width="13.6" height="10" rx="4" fill="#0096FF"/>
<rect x="851.8" y="918.7" width="13.6" height="10" rx="4" fill="#0096FF"/>
<rect x="873.9" y="920.5" width="13.6" height="10" rx="4" fill="#0096FF"/>
<rect x="895.9" y="918" width="13.6" height="10" rx="4" fill="#0096FF"/>
<rect x="918" y="915" width="13.6" height="10" rx="4" fill="#0096FF"/>
<rect x="940.1" y="908.4" width="13.6" height="10" rx="4" fill="#0096FF"/>
<rect x="962.1" y="906" width="13.6" height="10" rx="4" fill="#0096FF"/>
<rect x="984.2" y="906" width="13.6" height="10" rx="4" fill="#0096FF"/>
<rect x="1006.3" y="904.1" width="13.6" height="10" rx="4" fill="#0096FF"/>
<rect x="1028.4" y="904.1" width="13.6" height="10" rx="4" fill="#0096FF"/>
<rect x="1050.4" y="904.1" width="13.6" height="10" rx="4" fill="#0096FF"/>
<rect x="1072.5" y="899.9" width="13.6" height="10" rx="4" fill="#0096FF"/>
<rect x="1094.6" y="897.4" width="13.6" height="10" rx="4" fill="#0096FF"/>
<rect x="1116.6" y="895.6" width="13.6" height="10" rx="4" fill="#0096FF"/>
<rect x="1139.9" y="871" width="13.6" height="10" rx="4" fill="#0096FF"/>
<rect x="1162" y="365" width="13.6" height="10" rx="4" fill="#0096FF"/>
<rect x="1184.1" y="190" width="13.6" height="10" rx="4" fill="#0096FF"/>
<rect x="1206.2" y="175" width="13.6" height="10" rx="4" fill="#0096FF"/>
<rect x="1228.3" y="140" width="13.6" height="10" rx="4" fill="#0096FF"/>
<rect x="1250.4" y="171" width="13.6" height="10" rx="4" fill="#0096FF"/>
<rect x="1272.5" y="165.5" width="13.6" height="10" rx="4" fill="#0096FF"/>
<rect x="1294.6" y="175.4" width="13.6" height="10" rx="4" fill="#0096FF"/>
<rect x="1316.7" y="189.5" width="13.6" height="10" rx="4" fill="#0096FF"/>
<rect x="1338.8" y="161" width="13.6" height="10" rx="4" fill="#0096FF"/>
<rect x="1360.9" y="193.5" width="13.6" height="10" rx="4" fill="#0096FF"/>
<rect x="1383" y="170" width="13.6" height="10" rx="4" fill="#0096FF"/>
<rect x="1405.1" y="184.2" width="13.6" height="10" rx="4" fill="#0096FF"/>
<rect x="1427.2" y="184.5" width="13.6" height="10" rx="4" fill="#0096FF"/>
<rect x="1449.3" y="179" width="13.6" height="10" rx="4" fill="#0096FF"/>
<rect x="1471.4" y="168.5" width="13.6" height="10" rx="4" fill="#0096FF"/>
<rect x="1493.5" y="168" width="13.6" height="10" rx="4" fill="#0096FF"/>
<rect x="1515.6" y="168" width="13.6" height="10" rx="4" fill="#0096FF"/>
<rect x="1537.7" y="168" width="13.6" height="10" rx="4" fill="#0096FF"/>
<rect x="1559.8" y="168" width="13.6" height="10" rx="4" fill="#0096FF"/>
<rect x="1581.9" y="168" width="13.6" height="10" rx="4" fill="#0096FF"/>
<rect x="1604" y="168" width="13.6" height="10" rx="4" fill="#0096FF"/>
<rect x="1626.1" y="168" width="13.6" height="10" rx="4" fill="#0096FF"/>
<rect x="1648.2" y="168" width="13.6" height="10" rx="4" fill="#0096FF"/>
<rect x="1670.3" y="168" width="13.6" height="10" rx="4" fill="#0096FF"/>
<rect x="1692.4" y="168" width="13.6" height="10" rx="4" fill="#0096FF"/>
<rect x="1714.5" y="168" width="13.6" height="10" rx="4" fill="#0096FF"/>
<rect x="1736.6" y="168" width="13.6" height="10" rx="4" fill="#0096FF"/>
<rect x="1758.7" y="168" width="13.6" height="10" rx="4" fill="#0096FF"/>
<rect x="1780.8" y="168" width="13.6" height="10" rx="4" fill="#0096FF"/>
<rect x="1802.9" y="168" width="13.6" height="10" rx="4" fill="#0096FF"/>
<rect x="1825" y="168" width="13.6" height="10" rx="4" fill="#0096FF"/>
<rect x="1847.1" y="164.5" width="13.6" height="10" rx="4" fill="#0096FF"/>
<rect x="1869.2" y="168" width="13.6" height="10" rx="4" fill="#0096FF"/>
<rect x="1891.3" y="168" width="13.6" height="10" rx="4" fill="#0096FF"/>
<rect x="1913.4" y="168" width="13.6" height="10" rx="4" fill="#0096FF"/>
<rect x="1935.5" y="168" width="13.6" height="10" rx="4" fill="#0096FF"/>
<rect x="1957.6" y="168" width="13.6" height="10" rx="4" fill="#0096FF"/>
<rect x="1979.7" y="168" width="13.6" height="10" rx="4" fill="#0096FF"/>
<rect x="2001.8" y="168" width="13.6" height="10" rx="4" fill="#0096FF"/>
</g>
<g id="s-magenta">
<path d="M253.3 156.4C259.9 156.5 268.8 156.6 275.4 156.6C282.1 156.7 291 156.8 297.6 156.8C304.2 156.9 313.1 157 319.8 157.1C326.4 157.1 335.3 157.2 341.9 157.3C348.5 157.4 357.4 157.4 364.1 157.5C370.7 157.6 379.6 157.7 386.2 157.7C392.8 157.8 401.7 157.9 408.4 157.9C415 158 423.9 158.1 430.5 158.2C437.1 158.2 446 158.3 452.6 158.4C459.3 158.5 468.2 158.5 474.8 158.6C481.4 158.7 490.3 158.8 496.9 158.8C503.6 158.9 512.5 159 519.1 159.1C525.7 159.1 534.6 159.2 541.2 159.3C547.9 159.3 556.8 159.4 563.4 159.5C570 159.6 578.9 159.6 585.5 159.7C592.2 159.8 601.1 159.9 607.7 159.9C614.3 160 623.2 160.1 629.8 160.2C636.5 160.2 645.4 160.3 652 160.4C658.6 160.4 669.7 157.9 674.1 160.6C677.3 162.5 677.2 171.3 677.4 176C684.4 380.8 687.7 654.4 697.9 859C700.5 910.7 708.2 983.8 720 1030.3C721.5 1036.3 735.4 1033.5 742 1034C748.6 1034.5 757.6 1032.6 764.1 1033.4C770.8 1034.2 779.5 1037.8 786.2 1039.4C792.7 1040.9 801.8 1044.3 808.2 1043.7C815 1043.1 823.5 1036.4 830.3 1035.2C836.7 1034.1 845.8 1035.7 852.4 1035.8C859 1035.9 867.8 1035.8 874.5 1035.8C881.1 1035.8 890 1035.2 896.5 1035.8C903.2 1036.4 912 1038.8 918.6 1040C925.2 1041.2 934.1 1044.1 940.7 1043.7C947.4 1043.2 956.1 1037 962.7 1037C969.4 1037 978.2 1043.6 984.8 1043.7C991.4 1043.8 1000.1 1038.8 1006.9 1037.6C1013.4 1036.4 1022.4 1035.5 1029 1035.8C1035.6 1036.1 1045.3 1041.5 1051 1039.4C1058.6 1036.6 1065.5 1022.8 1073.1 1019.4C1078.7 1016.8 1088.6 1020.2 1095.2 1019.4C1101.9 1018.6 1112.7 1018.4 1117.2 1014C1126.3 1005.2 1139.5 988.6 1140.5 975.2C1153.1 804.4 1152.8 572.3 1162.6 400C1166 339.8 1173.2 246 1184.7 200C1186.5 192.8 1200.1 222.5 1206.8 222.7C1213.4 222.8 1222.1 201.4 1228.9 201C1235.3 200.6 1243.7 218.5 1251 220C1257 221.3 1266.2 211.1 1273.1 210.3C1279.5 209.5 1288.6 213.2 1295.2 214.6C1301.9 216.1 1311 220.9 1317.3 220C1324.3 219 1332.9 207.7 1339.4 208C1346.1 208.3 1354.6 221.2 1361.5 221.8C1367.9 222.4 1376.8 212.8 1383.6 212.1C1390 211.4 1399 216.3 1405.7 217C1412.3 217.7 1421.2 217.7 1427.8 217C1434.5 216.3 1443.4 211.7 1449.9 212.1C1456.6 212.6 1465.3 219.8 1472 220C1478.6 220.2 1487.4 213.7 1494.1 213.4C1500.7 213.1 1509.5 217.9 1516.2 218.2C1522.8 218.5 1531.6 215.7 1538.3 215.2C1544.9 214.8 1553.8 214.7 1560.4 215.2C1567.1 215.7 1575.9 219.1 1582.5 218.8C1589.2 218.5 1598 213.5 1604.6 213.4C1611.2 213.3 1620 217.8 1626.7 218.2C1633.3 218.6 1642.2 216.2 1648.8 215.8C1655.4 215.4 1664.3 215.3 1670.9 215.8C1677.6 216.3 1686.3 218.5 1693 219.4C1699.6 220.3 1708.5 221.2 1715.1 221.8C1721.7 222.4 1730.8 224.7 1737.2 223.7C1744 222.7 1752.8 214.9 1759.3 215.2C1766 215.5 1774.6 223 1781.4 225.5C1787.8 227.9 1796.8 231 1803.5 231.5C1810 232 1819 229.9 1825.6 229C1832.2 228.1 1841.1 225.4 1847.7 225.5C1854.3 225.6 1863.1 228.8 1869.8 229.7C1876.4 230.6 1885.3 231.1 1891.9 231.4C1898.5 231.7 1907.4 230.7 1914 231.4C1920.7 232.1 1929.5 236.1 1936.1 236.1C1942.7 236.1 1951.6 231.4 1958.2 231.4C1964.8 231.4 1973.6 235.4 1980.3 236.1C1986.9 236.8 1995.8 236.1 2002.4 236.1" fill="none" stroke="#FF5EFF" stroke-width="6.5" stroke-linejoin="round" stroke-linecap="round"/>
<rect x="243.3" y="152.7" width="20" height="7.5" rx="1.5" fill="#FF5EFF"/>
<rect x="265.4" y="152.9" width="20" height="7.5" rx="1.5" fill="#FF5EFF"/>
<rect x="287.6" y="153.1" width="20" height="7.5" rx="1.5" fill="#FF5EFF"/>
<rect x="309.8" y="153.3" width="20" height="7.5" rx="1.5" fill="#FF5EFF"/>
<rect x="331.9" y="153.5" width="20" height="7.5" rx="1.5" fill="#FF5EFF"/>
<rect x="354.1" y="153.8" width="20" height="7.5" rx="1.5" fill="#FF5EFF"/>
<rect x="376.2" y="154" width="20" height="7.5" rx="1.5" fill="#FF5EFF"/>
<rect x="398.4" y="154.2" width="20" height="7.5" rx="1.5" fill="#FF5EFF"/>
<rect x="420.5" y="154.4" width="20" height="7.5" rx="1.5" fill="#FF5EFF"/>
<rect x="442.6" y="154.6" width="20" height="7.5" rx="1.5" fill="#FF5EFF"/>
<rect x="464.8" y="154.9" width="20" height="7.5" rx="1.5" fill="#FF5EFF"/>
<rect x="486.9" y="155.1" width="20" height="7.5" rx="1.5" fill="#FF5EFF"/>
<rect x="509.1" y="155.3" width="20" height="7.5" rx="1.5" fill="#FF5EFF"/>
<rect x="531.2" y="155.5" width="20" height="7.5" rx="1.5" fill="#FF5EFF"/>
<rect x="553.4" y="155.7" width="20" height="7.5" rx="1.5" fill="#FF5EFF"/>
<rect x="575.5" y="156" width="20" height="7.5" rx="1.5" fill="#FF5EFF"/>
<rect x="597.7" y="156.2" width="20" height="7.5" rx="1.5" fill="#FF5EFF"/>
<rect x="619.8" y="156.4" width="20" height="7.5" rx="1.5" fill="#FF5EFF"/>
<rect x="642" y="156.6" width="20" height="7.5" rx="1.5" fill="#FF5EFF"/>
<rect x="664.1" y="156.8" width="20" height="7.5" rx="1.5" fill="#FF5EFF"/>
<rect x="687.9" y="855.2" width="20" height="7.5" rx="1.5" fill="#FF5EFF"/>
<rect x="710" y="1026.5" width="20" height="7.5" rx="1.5" fill="#FF5EFF"/>
<rect x="732" y="1030.2" width="20" height="7.5" rx="1.5" fill="#FF5EFF"/>
<rect x="754.1" y="1029.7" width="20" height="7.5" rx="1.5" fill="#FF5EFF"/>
<rect x="776.2" y="1035.7" width="20" height="7.5" rx="1.5" fill="#FF5EFF"/>
<rect x="798.2" y="1040" width="20" height="7.5" rx="1.5" fill="#FF5EFF"/>
<rect x="820.3" y="1031.5" width="20" height="7.5" rx="1.5" fill="#FF5EFF"/>
<rect x="842.4" y="1032" width="20" height="7.5" rx="1.5" fill="#FF5EFF"/>
<rect x="864.5" y="1032" width="20" height="7.5" rx="1.5" fill="#FF5EFF"/>
<rect x="886.5" y="1032" width="20" height="7.5" rx="1.5" fill="#FF5EFF"/>
<rect x="908.6" y="1036.2" width="20" height="7.5" rx="1.5" fill="#FF5EFF"/>
<rect x="930.7" y="1040" width="20" height="7.5" rx="1.5" fill="#FF5EFF"/>
<rect x="952.7" y="1033.2" width="20" height="7.5" rx="1.5" fill="#FF5EFF"/>
<rect x="974.8" y="1040" width="20" height="7.5" rx="1.5" fill="#FF5EFF"/>
<rect x="996.9" y="1033.8" width="20" height="7.5" rx="1.5" fill="#FF5EFF"/>
<rect x="1019" y="1032" width="20" height="7.5" rx="1.5" fill="#FF5EFF"/>
<rect x="1041" y="1035.7" width="20" height="7.5" rx="1.5" fill="#FF5EFF"/>
<rect x="1063.1" y="1015.6" width="20" height="7.5" rx="1.5" fill="#FF5EFF"/>
<rect x="1085.2" y="1015.6" width="20" height="7.5" rx="1.5" fill="#FF5EFF"/>
<rect x="1107.2" y="1010.2" width="20" height="7.5" rx="1.5" fill="#FF5EFF"/>
<rect x="1130.5" y="971.5" width="20" height="7.5" rx="1.5" fill="#FF5EFF"/>
<rect x="1152.6" y="396.2" width="20" height="7.5" rx="1.5" fill="#FF5EFF"/>
<rect x="1174.7" y="196.2" width="20" height="7.5" rx="1.5" fill="#FF5EFF"/>
<rect x="1196.8" y="218.9" width="20" height="7.5" rx="1.5" fill="#FF5EFF"/>
<rect x="1218.9" y="197.2" width="20" height="7.5" rx="1.5" fill="#FF5EFF"/>
<rect x="1241" y="216.2" width="20" height="7.5" rx="1.5" fill="#FF5EFF"/>
<rect x="1263.1" y="206.6" width="20" height="7.5" rx="1.5" fill="#FF5EFF"/>
<rect x="1285.2" y="210.8" width="20" height="7.5" rx="1.5" fill="#FF5EFF"/>
<rect x="1307.3" y="216.2" width="20" height="7.5" rx="1.5" fill="#FF5EFF"/>
<rect x="1329.4" y="204.2" width="20" height="7.5" rx="1.5" fill="#FF5EFF"/>
<rect x="1351.5" y="218.1" width="20" height="7.5" rx="1.5" fill="#FF5EFF"/>
<rect x="1373.6" y="208.3" width="20" height="7.5" rx="1.5" fill="#FF5EFF"/>
<rect x="1395.7" y="213.2" width="20" height="7.5" rx="1.5" fill="#FF5EFF"/>
<rect x="1417.8" y="213.2" width="20" height="7.5" rx="1.5" fill="#FF5EFF"/>
<rect x="1439.9" y="208.3" width="20" height="7.5" rx="1.5" fill="#FF5EFF"/>
<rect x="1462" y="216.2" width="20" height="7.5" rx="1.5" fill="#FF5EFF"/>
<rect x="1484.1" y="209.7" width="20" height="7.5" rx="1.5" fill="#FF5EFF"/>
<rect x="1506.2" y="214.4" width="20" height="7.5" rx="1.5" fill="#FF5EFF"/>
<rect x="1528.3" y="211.4" width="20" height="7.5" rx="1.5" fill="#FF5EFF"/>
<rect x="1550.4" y="211.4" width="20" height="7.5" rx="1.5" fill="#FF5EFF"/>
<rect x="1572.5" y="215.1" width="20" height="7.5" rx="1.5" fill="#FF5EFF"/>
<rect x="1594.6" y="209.7" width="20" height="7.5" rx="1.5" fill="#FF5EFF"/>
<rect x="1616.7" y="214.4" width="20" height="7.5" rx="1.5" fill="#FF5EFF"/>
<rect x="1638.8" y="212.1" width="20" height="7.5" rx="1.5" fill="#FF5EFF"/>
<rect x="1660.9" y="212.1" width="20" height="7.5" rx="1.5" fill="#FF5EFF"/>
<rect x="1683" y="215.7" width="20" height="7.5" rx="1.5" fill="#FF5EFF"/>
<rect x="1705.1" y="218.1" width="20" height="7.5" rx="1.5" fill="#FF5EFF"/>
<rect x="1727.2" y="219.9" width="20" height="7.5" rx="1.5" fill="#FF5EFF"/>
<rect x="1749.3" y="211.4" width="20" height="7.5" rx="1.5" fill="#FF5EFF"/>
<rect x="1771.4" y="221.8" width="20" height="7.5" rx="1.5" fill="#FF5EFF"/>
<rect x="1793.5" y="227.8" width="20" height="7.5" rx="1.5" fill="#FF5EFF"/>
<rect x="1815.6" y="225.2" width="20" height="7.5" rx="1.5" fill="#FF5EFF"/>
<rect x="1837.7" y="221.8" width="20" height="7.5" rx="1.5" fill="#FF5EFF"/>
<rect x="1859.8" y="225.9" width="20" height="7.5" rx="1.5" fill="#FF5EFF"/>
<rect x="1881.9" y="227.7" width="20" height="7.5" rx="1.5" fill="#FF5EFF"/>
<rect x="1904" y="227.7" width="20" height="7.5" rx="1.5" fill="#FF5EFF"/>
<rect x="1926.1" y="232.3" width="20" height="7.5" rx="1.5" fill="#FF5EFF"/>
<rect x="1948.2" y="227.7" width="20" height="7.5" rx="1.5" fill="#FF5EFF"/>
<rect x="1970.3" y="232.3" width="20" height="7.5" rx="1.5" fill="#FF5EFF"/>
<rect x="1992.4" y="232.3" width="20" height="7.5" rx="1.5" fill="#FF5EFF"/>
</g>
</g>
<text transform="translate(0 107.7) scale(1 1.045)" style="font-size:48px"><tspan class="gm" x="347.3" textLength="22.5" lengthAdjust="spacingAndGlyphs" style="font-size:48.8px;">γ</tspan> <tspan x="382.3" dy="-0.8" textLength="24.8" lengthAdjust="spacingAndGlyphs" style="font-size:42.7px;stroke:#000;stroke-width:1.8px;">=</tspan> <tspan x="422.8" dy="0.8">1</tspan> <tspan x="462.7" textLength="37.1" lengthAdjust="spacingAndGlyphs">%</tspan></text>
<text transform="translate(0 122.9) scale(1 1.045)" style="font-size:48px"><tspan class="gm" x="1434" textLength="22.5" lengthAdjust="spacingAndGlyphs" style="font-size:48.8px;">γ</tspan> <tspan x="1469" dy="-0.8" textLength="24.8" lengthAdjust="spacingAndGlyphs" style="font-size:42.7px;stroke:#000;stroke-width:1.8px;">=</tspan> <tspan x="1509.5" dy="0.8">1</tspan> <tspan x="1549.4" textLength="37.1" lengthAdjust="spacingAndGlyphs">%</tspan></text>
<text transform="translate(0 340) scale(1 1.04)" style="font-size:50px"><tspan class="gm" x="1266" dy="-1.3" textLength="24.4" lengthAdjust="spacingAndGlyphs" style="font-size:50px;">γ</tspan> <tspan x="1301.6" dy="1.3">(</tspan><tspan x="1319" dy="1" textLength="36.7" lengthAdjust="spacingAndGlyphs" style="font-size:53.4px;">%</tspan><tspan x="1358" dy="-1">)</tspan></text>
<g id="legend">
<rect x="1224" y="394.3" width="238" height="606.4" fill="#fff" stroke="#000" stroke-width="4"/>
<line x1="1251.5" y1="432.9" x2="1335" y2="432.9" stroke="#0000FF" stroke-width="6.2" stroke-linecap="round"/>
<rect x="1283.8" y="423.2" width="18.5" height="20" fill="#0000FF"/>
<text transform="translate(1341.6 447.8) scale(1 1.06)" style="font-size:43.8px;">20</text>
<line x1="1251.5" y1="508.9" x2="1335" y2="508.9" stroke="#006600" stroke-width="6.2" stroke-linecap="round"/>
<path d="M1293 500.5L1301.4 517.8L1284.6 517.8Z" fill="#fff" stroke="#006600" stroke-width="6" stroke-linejoin="round"/>
<text transform="translate(1341.6 521.8) scale(1 1.06)" style="font-size:43.8px;">40</text>
<line x1="1251.5" y1="585.8" x2="1335" y2="585.8" stroke="#BC2E2B" stroke-width="6.2" stroke-linecap="round"/>
<rect x="1284.5" y="577.3" width="17" height="17" fill="#fff" stroke="#BC2E2B" stroke-width="3"/>
<text transform="translate(1341.6 598.6) scale(1 1.06)" style="font-size:43.8px;">60</text>
<line x1="1251.5" y1="661.8" x2="1335" y2="661.8" stroke="#774E8F" stroke-width="8.3" stroke-linecap="round"/>
<rect x="1282.5" y="650.8" width="21" height="22" fill="#fff"/>
<path d="M1285 652.8L1301 670.8M1285 670.8L1301 652.8" stroke="#774E8F" stroke-width="3" fill="none"/>
<text transform="translate(1341.6 672.6) scale(1 1.06)" style="font-size:43.8px;">80</text>
<line x1="1251.5" y1="737.4" x2="1335" y2="737.4" stroke="#FF0000" stroke-width="6.2" stroke-linecap="round"/>
<circle cx="1293.5" cy="737.4" r="9" fill="#FF0000"/>
<text transform="translate(1341.6 750.2) scale(1 1.06)" style="font-size:43.8px;">100</text>
<line x1="1251.5" y1="812.1" x2="1335" y2="812.1" stroke="#000000" stroke-width="6.2" stroke-linecap="round"/>
<path d="M1293 803.1L1300.5 812.1L1293 821.1L1285.5 812.1Z" fill="#000000"/>
<text transform="translate(1341.6 824.9) scale(1 1.06)" style="font-size:43.8px;">500</text>
<line x1="1251.5" y1="888.6" x2="1335" y2="888.6" stroke="#0096FF" stroke-width="6.2" stroke-linecap="round"/>
<rect x="1291.2" y="883.6" width="13" height="10" rx="4" fill="#0096FF"/>
<text transform="translate(1341.6 901.6) scale(1 1.06)" style="font-size:43.8px;">1000</text>
<line x1="1251.5" y1="963.2" x2="1335" y2="963.2" stroke="#FF5EFF" stroke-width="6.2" stroke-linecap="round"/>
<text transform="translate(1341.6 978.4) scale(1 1.06)" style="font-size:43.8px;">1500</text>
</g>
</g>
</svg>
</body></html>
